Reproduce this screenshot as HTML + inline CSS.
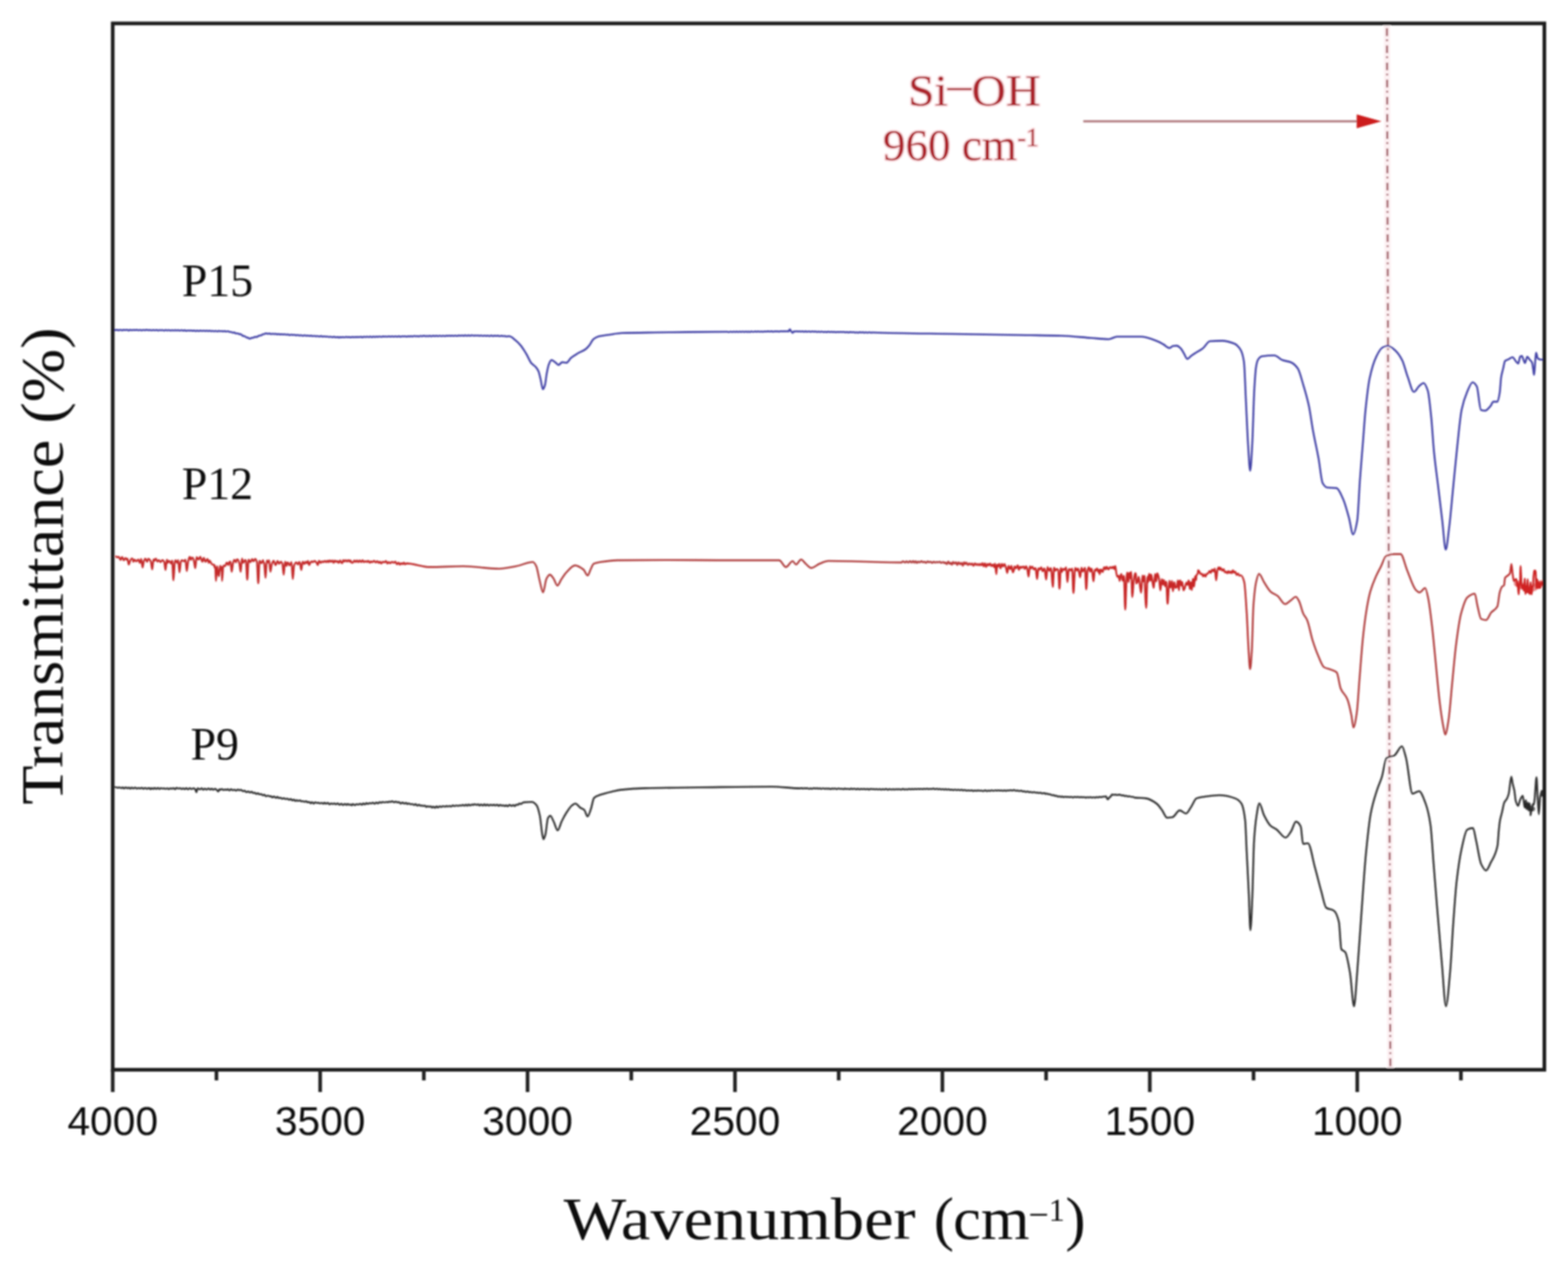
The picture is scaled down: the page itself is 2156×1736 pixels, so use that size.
<!DOCTYPE html>
<html><head><meta charset="utf-8"><title>FTIR spectra</title>
<style>
html,body{margin:0;padding:0;background:#fff;}
body{width:2156px;height:1736px;overflow:hidden;}
svg{display:block;}
.serif{font-family:"Liberation Serif","Times New Roman",serif;}
.sans{font-family:"Liberation Sans",Arial,sans-serif;}
</style></head>
<body>
<svg width="2156" height="1736" viewBox="0 0 2156 1736">
<defs><linearGradient id="redg" gradientUnits="userSpaceOnUse" x1="150" y1="0" x2="2130" y2="0">
<stop offset="0.0000" stop-color="#c42c2c"/><stop offset="0.2071" stop-color="#c42c2c"/><stop offset="0.2323" stop-color="#b04040"/><stop offset="0.5758" stop-color="#b04040"/><stop offset="0.6061" stop-color="#c82828"/><stop offset="0.7828" stop-color="#c82828"/><stop offset="0.7955" stop-color="#b04040"/><stop offset="0.9672" stop-color="#b04040"/><stop offset="0.9773" stop-color="#cc2222"/>
</linearGradient><filter id="soft" x="-5%" y="-5%" width="110%" height="110%"><feGaussianBlur stdDeviation="0.9"/></filter></defs>
<rect width="100%" height="100%" fill="#fff"/>
<g filter="url(#soft)">
<!-- dashed marker line -->
<line x1="1907" y1="34" x2="1911.8" y2="1469" stroke="#fdf1f3" stroke-width="9" />
<line x1="1907" y1="32" x2="1911.8" y2="1471" stroke="#a05a64" stroke-width="2.8" stroke-dasharray="10.6 4.6 2.4 6" stroke-dashoffset="16.8" />
<!-- spectra -->
<path d="M157.0 453.4C157.7 453.5 158.5 453.8 159.2 453.8C159.8 453.8 160.5 453.3 161.1 453.3C161.8 453.3 162.4 454.1 163.1 454.1C163.8 454.1 164.6 453.2 165.3 453.2C166.2 453.2 167.0 454.1 167.9 454.1C168.5 454.1 169.2 453.2 169.8 453.2C170.5 453.2 171.2 453.8 171.9 453.8C172.7 453.8 173.6 453.3 174.4 453.3C175.3 453.3 176.1 454.1 177.0 454.1C177.7 454.1 178.3 453.4 179.0 453.4C179.6 453.4 180.2 453.9 180.8 453.9C181.7 453.9 182.5 453.5 183.4 453.5C184.3 453.5 185.1 453.8 186.0 453.8C186.7 453.8 187.5 453.4 188.2 453.4C188.8 453.4 189.4 454.0 190.0 454.0C190.9 454.0 191.7 453.5 192.6 453.5C193.3 453.5 194.0 454.1 194.7 454.1C195.6 454.1 196.4 453.5 197.3 453.5C198.1 453.5 198.8 453.9 199.6 453.9C199.7 453.9 199.9 453.5 200.0 453.5C200.7 453.4 201.4 453.4 202.1 453.4C202.7 453.4 203.4 453.9 204.0 453.9C204.8 453.9 205.6 453.6 206.4 453.6C207.1 453.6 207.7 454.1 208.4 454.1C209.1 454.1 209.8 453.6 210.5 453.6C211.3 453.6 212.2 454.0 213.0 454.0C213.8 454.0 214.7 453.6 215.5 453.6C216.1 453.6 216.8 454.3 217.4 454.3C218.0 454.3 218.7 453.7 219.3 453.7C220.0 453.7 220.8 454.0 221.5 454.0C222.2 454.0 223.0 453.7 223.7 453.7C224.4 453.7 225.1 454.4 225.8 454.4C226.4 454.4 227.0 453.6 227.6 453.6C228.3 453.6 228.9 454.1 229.6 454.1C230.4 454.1 231.2 453.7 232.0 453.7C232.9 453.7 233.7 454.4 234.6 454.4C235.2 454.4 235.8 453.9 236.4 453.9C237.1 453.9 237.9 454.2 238.6 454.2C239.4 454.2 240.2 453.7 241.0 453.7C241.6 453.7 242.2 454.3 242.8 454.3C243.6 454.3 244.5 453.8 245.3 453.8C245.9 453.8 246.6 454.5 247.2 454.5C248.0 454.5 248.7 453.8 249.5 453.8C249.7 453.8 249.8 453.9 250.0 454.0C250.6 454.2 251.1 454.4 251.7 454.4C252.5 454.4 253.2 453.9 254.0 453.9C254.7 453.9 255.4 454.8 256.1 454.8C256.8 454.8 257.5 454.2 258.2 454.2C259.0 454.2 259.7 454.5 260.5 454.5C261.2 454.5 261.9 454.3 262.6 454.3C263.4 454.3 264.1 454.6 264.9 454.6C265.6 454.6 266.4 454.2 267.1 454.2C267.8 454.2 268.5 455.1 269.2 455.1C269.8 455.1 270.4 454.4 271.0 454.4C271.8 454.4 272.5 455.0 273.3 455.0C274.0 455.0 274.8 454.4 275.5 454.4C276.2 454.4 276.8 454.9 277.5 454.9C278.3 454.9 279.1 454.5 279.9 454.5C280.7 454.5 281.6 454.9 282.4 454.9C283.1 454.9 283.8 454.5 284.5 454.5C285.1 454.5 285.8 455.1 286.4 455.1C287.1 455.1 287.9 454.5 288.6 454.5C289.2 454.5 289.9 455.2 290.5 455.2C291.1 455.2 291.7 454.8 292.3 454.8C293.0 454.8 293.8 455.4 294.5 455.4C295.1 455.4 295.7 454.8 296.3 454.8C297.0 454.8 297.8 455.5 298.5 455.5C299.2 455.5 300.0 454.9 300.7 454.9C301.3 454.9 301.9 455.3 302.5 455.3C303.3 455.3 304.0 455.0 304.8 455.0C305.4 455.0 306.0 455.5 306.6 455.5C307.4 455.5 308.2 455.1 309.0 455.1C309.8 455.1 310.7 455.8 311.5 455.8C312.0 455.8 312.5 455.2 313.0 455.2C313.2 455.2 313.5 455.2 313.7 455.3C314.3 455.3 314.9 456.3 315.5 456.3C316.2 456.3 317.0 456.3 317.7 456.3C318.4 456.3 319.1 457.2 319.8 457.2C320.7 457.2 321.5 457.1 322.4 457.1C323.0 457.1 323.7 458.3 324.3 458.3C325.1 458.3 326.0 458.3 326.8 458.3C327.7 458.4 328.5 459.5 329.4 459.5C329.6 459.5 329.8 459.0 330.0 459.0C330.6 459.0 331.2 459.5 331.8 459.9C332.6 460.4 333.5 461.5 334.3 461.7C334.9 461.9 335.6 461.8 336.2 462.0C337.1 462.2 338.0 463.6 338.9 463.8C339.6 464.1 340.4 464.1 341.1 464.3C341.7 464.5 342.4 465.1 343.0 465.3C343.2 465.4 343.5 465.5 343.7 465.5C344.5 465.5 345.4 464.5 346.2 464.4C346.8 464.3 347.5 464.3 348.1 464.2C348.9 464.0 349.8 463.1 350.6 463.1C351.5 463.1 352.3 463.1 353.2 463.1C353.8 463.1 354.4 462.3 355.0 462.0C355.7 461.7 356.3 461.4 357.0 461.2C357.8 461.0 358.7 461.1 359.5 460.8C360.1 460.6 360.8 459.6 361.4 459.4C362.2 459.2 363.1 459.3 363.9 459.1C364.3 459.0 364.6 458.2 365.0 458.2C365.3 458.2 365.6 458.2 365.9 458.2C366.7 458.2 367.6 458.9 368.4 458.9C369.0 458.9 369.7 458.4 370.3 458.4C371.0 458.4 371.8 459.1 372.5 459.1C373.4 459.1 374.2 458.8 375.1 458.8C375.7 458.8 376.4 459.1 377.0 459.1C377.7 459.1 378.3 458.9 379.0 458.9C379.7 458.9 380.5 459.6 381.2 459.6C381.9 459.6 382.5 459.0 383.2 459.0C383.8 459.0 384.4 459.7 385.0 459.7C385.6 459.7 386.3 459.4 386.9 459.4C387.6 459.4 388.2 459.7 388.9 459.7C389.7 459.7 390.6 459.5 391.4 459.5C392.2 459.5 393.0 460.0 393.8 460.0C394.6 460.0 395.5 459.8 396.3 459.8C397.0 459.8 397.6 460.6 398.3 460.6C398.9 460.6 399.4 460.0 400.0 460.0C400.2 460.0 400.5 460.0 400.7 460.0C401.3 460.0 402.0 460.4 402.6 460.4C403.3 460.4 404.1 460.2 404.8 460.2C405.6 460.2 406.3 460.9 407.1 460.9C407.8 460.9 408.5 460.5 409.2 460.5C410.0 460.5 410.9 461.1 411.7 461.1C412.5 461.1 413.2 460.7 414.0 460.7C414.7 460.7 415.5 461.5 416.2 461.5C417.1 461.5 417.9 460.9 418.8 460.9C419.4 460.9 420.0 461.5 420.6 461.5C421.5 461.5 422.4 461.3 423.3 461.3C424.1 461.3 424.8 461.7 425.6 461.7C426.3 461.7 427.0 461.4 427.7 461.4C428.5 461.4 429.3 462.0 430.1 462.0C430.8 462.0 431.4 461.7 432.1 461.7C433.0 461.7 433.9 462.1 434.8 462.1C435.5 462.1 436.3 462.0 437.0 462.0C437.7 462.0 438.4 462.5 439.1 462.5C439.9 462.5 440.7 461.9 441.5 461.9C442.2 461.9 443.0 462.7 443.7 462.7C444.3 462.7 445.0 462.3 445.6 462.3C446.4 462.3 447.2 462.8 448.0 462.8C448.6 462.8 449.2 462.5 449.8 462.5C450.6 462.5 451.5 463.2 452.3 463.2C453.0 463.2 453.6 462.8 454.3 462.8C455.1 462.8 455.8 463.4 456.6 463.4C457.5 463.4 458.3 462.9 459.2 462.9C460.0 462.9 460.7 463.6 461.5 463.6C462.3 463.6 463.1 463.4 463.9 463.4C464.3 463.4 464.6 463.4 465.0 463.4C465.3 463.4 465.6 464.1 465.9 464.1C466.5 464.1 467.1 463.3 467.7 463.3C468.3 463.3 468.8 463.7 469.4 463.7C470.0 463.7 470.7 463.3 471.3 463.3C472.1 463.3 472.8 463.7 473.6 463.7C474.3 463.7 475.1 463.1 475.8 463.1C476.5 463.1 477.3 463.5 478.0 463.5C478.8 463.5 479.7 463.2 480.5 463.2C481.1 463.2 481.8 463.8 482.4 463.8C483.1 463.8 483.7 463.1 484.4 463.1C485.2 463.1 485.9 463.6 486.7 463.6C487.3 463.6 487.9 463.0 488.5 463.0C489.1 463.0 489.6 463.4 490.2 463.4C490.9 463.4 491.6 463.1 492.3 463.1C492.9 463.1 493.6 463.4 494.2 463.4C494.9 463.4 495.5 462.9 496.2 462.9C496.9 462.9 497.5 463.6 498.2 463.6C499.0 463.6 499.7 462.9 500.5 462.9C501.3 462.9 502.0 463.3 502.8 463.3C503.4 463.3 504.1 462.7 504.7 462.7C505.5 462.7 506.2 463.3 507.0 463.3C507.7 463.3 508.5 462.6 509.2 462.6C509.8 462.6 510.5 463.4 511.1 463.4C511.9 463.4 512.8 462.6 513.6 462.6C514.3 462.6 514.9 463.3 515.6 463.3C516.2 463.3 516.9 462.5 517.5 462.5C518.1 462.5 518.8 463.1 519.4 463.1C520.2 463.1 520.9 462.5 521.7 462.5C522.5 462.5 523.4 463.0 524.2 463.0C525.0 463.0 525.9 462.4 526.7 462.4C527.4 462.4 528.1 462.8 528.8 462.8C529.2 462.8 529.6 462.5 530.0 462.5C530.3 462.5 530.5 462.5 530.8 462.5C531.4 462.5 531.9 462.8 532.5 462.8C533.3 462.8 534.1 462.3 534.9 462.3C535.6 462.3 536.4 462.8 537.1 462.8C537.8 462.8 538.5 462.3 539.2 462.3C540.0 462.3 540.7 462.8 541.5 462.8C542.2 462.8 543.0 462.3 543.7 462.3C544.5 462.3 545.4 462.8 546.2 462.8C547.0 462.8 547.8 462.1 548.6 462.1C549.3 462.1 549.9 462.9 550.6 462.9C551.5 462.9 552.3 462.2 553.2 462.2C553.8 462.2 554.4 462.4 555.0 462.4C555.7 462.4 556.5 462.2 557.2 462.2C557.9 462.2 558.6 462.8 559.3 462.8C560.0 462.8 560.6 462.1 561.3 462.1C561.9 462.1 562.5 462.4 563.1 462.4C563.9 462.4 564.8 462.1 565.6 462.1C566.2 462.1 566.7 462.5 567.3 462.5C568.1 462.5 568.8 461.7 569.6 461.7C570.5 461.7 571.3 462.2 572.2 462.2C572.8 462.2 573.4 462.0 574.0 462.0C574.7 462.0 575.3 462.4 576.0 462.4C576.8 462.4 577.5 461.7 578.3 461.7C579.0 461.7 579.8 462.1 580.5 462.1C581.3 462.1 582.0 461.6 582.8 461.6C583.6 461.6 584.5 462.1 585.3 462.1C585.9 462.1 586.6 461.7 587.2 461.7C587.9 461.7 588.5 462.1 589.2 462.1C589.9 462.1 590.5 461.5 591.2 461.5C591.8 461.5 592.5 462.3 593.1 462.3C593.7 462.3 594.4 461.6 595.0 461.6C595.2 461.6 595.4 461.6 595.6 461.6C596.4 461.7 597.2 461.9 598.0 461.9C598.8 461.9 599.6 461.6 600.4 461.6C601.0 461.6 601.6 462.0 602.2 462.0C603.0 462.0 603.9 461.5 604.7 461.5C605.5 461.5 606.3 462.0 607.1 462.0C607.8 462.0 608.6 461.5 609.3 461.5C610.1 461.5 610.9 462.0 611.7 462.0C612.4 462.0 613.2 461.4 613.9 461.4C614.5 461.4 615.2 461.7 615.8 461.7C616.4 461.7 617.1 461.3 617.7 461.3C618.3 461.3 619.0 461.8 619.6 461.8C620.2 461.8 620.8 461.3 621.4 461.3C622.1 461.3 622.8 461.7 623.5 461.7C624.3 461.7 625.1 461.3 625.9 461.3C626.7 461.3 627.5 461.7 628.3 461.7C629.1 461.7 630.0 461.1 630.8 461.1C631.6 461.1 632.4 461.5 633.2 461.5C633.9 461.5 634.5 461.0 635.2 461.0C635.9 461.0 636.7 461.6 637.4 461.6C638.1 461.6 638.9 460.9 639.6 460.9C640.4 460.9 641.2 461.5 642.0 461.5C642.7 461.5 643.5 460.9 644.2 460.9C644.9 460.9 645.5 461.5 646.2 461.5C647.0 461.5 647.7 460.9 648.5 460.9C649.0 460.9 649.5 461.0 650.0 461.0C650.4 461.0 650.8 461.5 651.2 461.5C651.8 461.5 652.5 461.1 653.1 461.1C653.9 461.1 654.8 461.3 655.6 461.3C656.2 461.3 656.8 461.1 657.4 461.1C658.1 461.1 658.7 461.6 659.4 461.6C660.1 461.6 660.7 461.1 661.4 461.1C662.2 461.1 663.0 461.7 663.8 461.7C664.7 461.7 665.5 461.3 666.4 461.3C667.2 461.3 668.0 461.7 668.8 461.7C669.5 461.7 670.1 461.2 670.8 461.2C671.7 461.2 672.5 462.0 673.4 462.0C674.1 462.0 674.7 461.1 675.4 461.1C676.1 461.1 676.7 461.9 677.4 461.9C678.3 461.9 679.1 461.4 680.0 461.4C680.8 461.4 681.5 461.7 682.3 461.7C683.1 461.7 683.8 461.4 684.6 461.4C685.4 461.4 686.2 462.0 687.0 462.0C687.9 462.0 688.7 461.7 689.6 461.6C689.7 461.6 689.9 461.5 690.0 461.5C690.6 461.5 691.2 462.0 691.8 462.0C692.6 462.0 693.5 461.9 694.3 461.9C695.1 461.9 695.8 462.5 696.6 462.5C697.5 462.5 698.3 462.1 699.2 462.1C699.8 462.1 700.5 462.2 701.1 462.3C703.6 462.7 706.1 465.5 708.6 467.5C711.1 469.5 713.5 471.9 716.0 474.9C718.5 477.9 720.9 482.0 723.4 486.0C725.9 490.0 728.3 496.5 730.8 499.4C732.8 501.7 734.8 502.3 736.8 504.6C738.0 506.0 739.3 507.7 740.5 510.5C741.5 512.7 742.4 517.6 743.4 521.6C744.4 525.7 745.4 535.0 746.4 535.0C747.4 535.0 748.4 532.2 749.4 529.0C750.1 526.7 750.9 518.2 751.6 514.2C752.6 508.8 753.6 503.3 754.6 500.9C755.8 497.9 757.1 494.9 758.3 494.9C760.3 494.9 762.2 497.2 764.2 498.6C765.4 499.5 766.7 501.6 767.9 501.6C769.6 501.6 771.4 497.9 773.1 497.9C775.1 497.9 777.1 498.6 779.1 498.6C781.1 498.6 783.0 493.7 785.0 492.0C788.0 489.5 790.9 487.8 793.9 486.0C797.6 483.8 801.3 482.8 805.0 480.1C806.7 478.9 808.5 477.0 810.2 474.9C812.2 472.5 814.2 467.5 816.2 466.0C818.7 464.1 821.1 462.9 823.6 462.3C828.5 461.1 833.5 460.7 838.4 460.0C843.9 459.2 849.5 458.0 855.0 457.8C870.0 457.3 885.0 457.2 900.0 457.0C915.9 456.8 931.9 456.6 947.8 456.4C965.2 456.2 982.6 456.0 1000.0 456.0C1000.8 456.0 1001.6 456.5 1002.4 456.5C1003.2 456.5 1003.9 455.8 1004.7 455.8C1005.4 455.8 1006.0 456.4 1006.7 456.4C1007.3 456.4 1008.0 455.9 1008.6 455.9C1009.4 455.9 1010.1 456.2 1010.9 456.2C1011.5 456.2 1012.2 455.9 1012.8 455.9C1013.6 455.9 1014.5 456.2 1015.3 456.2C1015.9 456.2 1016.6 455.8 1017.2 455.8C1017.8 455.8 1018.4 456.2 1019.0 456.2C1019.6 456.2 1020.3 455.8 1020.9 455.8C1021.7 455.8 1022.6 456.1 1023.4 456.1C1024.1 456.1 1024.8 455.7 1025.5 455.7C1026.1 455.7 1026.8 456.1 1027.4 456.1C1028.0 456.1 1028.6 455.7 1029.2 455.7C1029.8 455.7 1030.4 456.3 1031.0 456.3C1031.8 456.3 1032.5 455.6 1033.3 455.6C1034.1 455.6 1034.9 456.2 1035.7 456.2C1036.5 456.2 1037.2 455.6 1038.0 455.6C1038.8 455.6 1039.6 456.0 1040.4 456.0C1041.0 456.0 1041.7 455.5 1042.3 455.5C1043.0 455.5 1043.8 456.0 1044.5 456.0C1045.2 456.0 1045.9 455.7 1046.6 455.7C1047.4 455.7 1048.3 456.0 1049.1 456.0C1049.9 456.0 1050.8 455.6 1051.6 455.6C1052.4 455.6 1053.3 455.8 1054.1 455.8C1054.7 455.8 1055.3 455.4 1055.9 455.4C1056.8 455.4 1057.6 455.8 1058.5 455.8C1059.3 455.8 1060.2 455.4 1061.0 455.4C1061.9 455.4 1062.7 455.9 1063.6 455.9C1064.2 455.9 1064.9 455.4 1065.5 455.4C1066.1 455.4 1066.8 455.6 1067.4 455.6C1068.0 455.6 1068.7 455.4 1069.3 455.4C1069.9 455.4 1070.5 455.9 1071.1 455.9C1071.9 455.9 1072.8 455.3 1073.6 455.3C1074.4 455.3 1075.2 455.5 1076.0 455.5C1076.8 455.5 1077.6 455.2 1078.4 455.2C1079.2 455.2 1080.0 455.5 1080.8 455.5C1081.6 455.5 1082.4 455.1 1083.2 455.1C1083.5 455.1 1083.9 455.8 1084.2 455.8C1084.8 455.8 1085.4 452.5 1086.0 452.5C1086.6 452.5 1087.2 455.1 1087.8 455.2C1087.9 455.2 1087.9 455.2 1088.0 455.2C1088.1 455.2 1088.1 455.6 1088.2 455.7C1088.8 456.6 1089.4 457.5 1090.0 457.5C1090.6 457.5 1091.2 455.3 1091.8 455.3C1092.3 455.3 1092.7 455.8 1093.2 455.8C1093.9 455.8 1094.6 455.3 1095.3 455.3C1096.0 455.3 1096.7 455.8 1097.4 455.8C1098.0 455.8 1098.6 455.4 1099.2 455.4C1099.9 455.4 1100.5 455.9 1101.2 455.9C1101.9 455.9 1102.5 455.4 1103.2 455.4C1104.0 455.4 1104.8 456.0 1105.6 456.0C1106.3 456.0 1107.0 455.4 1107.7 455.4C1108.4 455.4 1109.0 456.0 1109.7 456.0C1110.6 456.0 1111.4 455.5 1112.3 455.5C1113.0 455.5 1113.8 456.1 1114.5 456.1C1115.3 456.1 1116.2 455.5 1117.0 455.5C1117.8 455.5 1118.5 456.0 1119.3 456.0C1119.9 456.0 1120.5 455.5 1121.1 455.5C1121.8 455.5 1122.5 456.3 1123.2 456.3C1123.9 456.3 1124.7 455.9 1125.4 455.9C1126.2 455.9 1127.0 456.3 1127.8 456.3C1128.5 456.3 1129.2 455.8 1129.9 455.8C1130.7 455.8 1131.5 456.4 1132.3 456.4C1133.0 456.4 1133.8 456.0 1134.5 456.0C1135.1 456.0 1135.8 456.4 1136.4 456.4C1137.3 456.4 1138.1 455.9 1139.0 455.9C1139.6 455.9 1140.2 456.4 1140.8 456.4C1141.6 456.4 1142.5 456.0 1143.3 456.0C1143.9 456.0 1144.6 456.5 1145.2 456.5C1145.8 456.5 1146.4 456.1 1147.0 456.1C1147.6 456.1 1148.3 456.6 1148.9 456.6C1149.7 456.6 1150.5 456.3 1151.3 456.3C1152.2 456.3 1153.0 456.5 1153.9 456.5C1154.5 456.5 1155.1 456.2 1155.7 456.2C1156.4 456.2 1157.2 456.5 1157.9 456.5C1158.6 456.5 1159.4 456.2 1160.1 456.2C1160.9 456.2 1161.8 456.9 1162.6 456.9C1163.2 456.9 1163.9 456.4 1164.5 456.4C1165.2 456.4 1166.0 457.0 1166.7 457.0C1167.4 457.0 1168.0 456.4 1168.7 456.4C1169.5 456.4 1170.4 456.8 1171.2 456.8C1171.9 456.8 1172.5 456.5 1173.2 456.5C1174.1 456.5 1174.9 457.1 1175.8 457.1C1176.5 457.1 1177.1 456.7 1177.8 456.7C1178.5 456.7 1179.1 457.3 1179.8 457.3C1180.6 457.3 1181.3 456.6 1182.1 456.6C1182.8 456.6 1183.6 457.1 1184.3 457.1C1184.9 457.1 1185.6 456.6 1186.2 456.6C1187.0 456.6 1187.7 457.3 1188.5 457.3C1189.1 457.3 1189.8 456.7 1190.4 456.7C1191.2 456.7 1192.0 457.2 1192.8 457.2C1193.6 457.2 1194.4 456.7 1195.2 456.7C1196.0 456.7 1196.8 457.2 1197.6 457.2C1198.4 457.2 1199.1 457.0 1199.9 457.0C1199.9 457.0 1200.0 457.0 1200.0 457.0C1237.0 458.3 1274.0 458.4 1311.0 459.0C1340.7 459.5 1370.3 460.0 1400.0 460.5C1419.8 460.8 1439.7 460.9 1459.5 461.5C1473.0 461.9 1486.5 463.5 1500.0 464.5C1508.2 465.1 1516.3 466.2 1524.5 466.2C1528.2 466.2 1532.0 462.8 1535.7 462.8C1546.8 462.8 1557.9 462.8 1569.0 462.8C1576.4 462.8 1583.9 466.2 1591.3 469.0C1594.2 470.1 1597.1 471.9 1600.0 473.5C1602.7 475.0 1605.3 478.4 1608.0 478.4C1609.7 478.4 1611.3 475.7 1613.0 475.5C1614.7 475.3 1616.3 475.1 1618.0 475.1C1619.9 475.1 1621.7 477.2 1623.6 479.0C1625.1 480.4 1626.5 483.6 1628.0 486.0C1629.5 488.4 1631.0 493.4 1632.5 493.4C1634.3 493.4 1636.2 490.3 1638.0 489.0C1640.3 487.4 1642.5 486.0 1644.8 484.5C1647.8 482.6 1650.7 481.3 1653.7 479.0C1657.0 476.5 1660.4 469.3 1663.7 469.0C1669.3 468.6 1674.8 468.4 1680.4 468.4C1686.0 468.4 1691.5 470.1 1697.1 472.3C1700.1 473.5 1703.0 476.2 1706.0 481.2C1707.5 483.7 1708.9 487.7 1710.4 497.0C1711.4 503.2 1712.3 534.7 1713.3 554.0C1714.2 572.7 1715.2 596.6 1716.1 611.0C1717.1 626.0 1718.0 647.1 1719.0 647.1C1719.9 647.1 1720.9 627.1 1721.8 611.0C1722.8 594.3 1723.7 551.6 1724.7 535.0C1725.5 521.8 1726.2 509.8 1727.0 505.0C1727.8 500.0 1728.6 496.4 1729.4 495.1C1731.3 491.9 1733.2 490.1 1735.1 489.8C1740.8 488.9 1746.5 488.5 1752.2 488.5C1756.0 488.5 1759.8 493.8 1763.6 495.1C1767.4 496.4 1771.2 496.5 1775.0 498.0C1778.2 499.3 1781.3 502.0 1784.5 506.5C1787.0 510.1 1789.6 520.9 1792.1 529.3C1794.6 537.7 1797.2 546.0 1799.7 557.8C1801.6 566.7 1803.5 581.6 1805.4 592.0C1807.9 605.9 1810.5 616.1 1813.0 630.0C1814.9 640.4 1816.8 660.9 1818.7 664.2C1820.6 667.5 1822.5 669.7 1824.4 670.0C1828.8 670.6 1833.3 670.3 1837.7 670.9C1840.9 671.3 1844.0 679.9 1847.2 687.0C1849.7 692.7 1852.3 702.6 1854.8 711.7C1856.7 718.5 1858.6 734.5 1860.5 734.5C1862.4 734.5 1864.3 726.3 1866.2 715.5C1867.5 708.3 1868.7 675.8 1870.0 658.5C1871.3 641.2 1872.5 626.8 1873.8 611.0C1875.1 595.2 1876.3 575.7 1877.6 563.5C1879.5 545.1 1881.4 528.7 1883.3 519.8C1886.5 505.0 1889.6 495.8 1892.8 489.4C1895.3 484.3 1897.9 479.5 1900.4 478.0C1902.9 476.5 1905.5 475.2 1908.0 475.2C1911.5 475.2 1915.0 478.7 1918.5 481.8C1921.7 484.6 1924.8 489.0 1928.0 495.1C1930.5 500.0 1933.1 511.1 1935.6 517.9C1938.5 525.6 1941.3 538.8 1944.2 538.8C1946.4 538.8 1948.6 533.1 1950.8 531.2C1953.0 529.3 1955.3 526.5 1957.5 526.5C1959.4 526.5 1961.3 531.2 1963.2 536.9C1964.8 541.6 1966.3 558.0 1967.9 573.0C1969.2 585.2 1970.4 607.7 1971.7 620.5C1973.6 639.8 1975.5 652.2 1977.4 668.0C1979.3 683.8 1981.2 699.7 1983.1 715.5C1984.7 728.8 1986.3 755.4 1987.9 755.4C1989.5 755.4 1991.0 737.2 1992.6 725.0C1994.5 710.2 1996.4 687.0 1998.3 668.0C2000.2 649.0 2002.1 628.3 2004.0 611.0C2005.9 593.7 2007.8 572.6 2009.7 563.5C2012.2 551.4 2014.8 544.6 2017.3 538.8C2019.8 533.0 2022.4 525.5 2024.9 525.5C2026.8 525.5 2028.7 528.0 2030.6 531.2C2032.5 534.4 2034.4 562.9 2036.3 563.5C2038.2 564.1 2040.1 564.5 2042.0 564.5C2044.5 564.5 2047.1 560.7 2049.6 557.8C2050.9 556.4 2052.1 552.1 2053.4 552.1C2055.3 552.1 2057.2 552.1 2059.1 552.1C2060.1 552.1 2061.1 545.9 2062.1 539.8C2062.8 535.7 2063.4 522.6 2064.1 518.4C2065.0 512.5 2066.0 510.2 2066.9 506.3C2067.7 502.8 2068.6 497.0 2069.4 496.2C2071.0 494.6 2072.6 494.6 2074.2 493.8C2076.1 492.9 2077.9 491.0 2079.8 491.0C2081.3 491.0 2082.8 494.9 2084.3 496.6C2085.4 497.8 2086.4 499.8 2087.5 499.8C2088.4 499.8 2089.4 490.8 2090.3 490.2C2091.1 489.7 2091.9 489.4 2092.7 489.4C2093.3 489.4 2093.8 492.1 2094.4 493.4C2095.2 495.3 2096.0 499.0 2096.8 499.0C2097.9 499.0 2098.9 490.2 2100.0 490.2C2101.1 490.2 2102.1 492.9 2103.2 494.2C2104.3 495.6 2105.4 495.8 2106.5 498.2C2107.1 499.4 2107.6 504.5 2108.2 508.0C2108.6 510.3 2108.9 515.2 2109.3 515.2C2109.7 515.2 2110.0 509.3 2110.4 505.0C2110.7 501.9 2110.9 496.0 2111.2 493.0C2111.5 489.6 2111.8 484.9 2112.1 484.9C2112.9 484.9 2113.7 492.0 2114.5 492.6C2115.8 493.6 2117.2 494.2 2118.5 494.2C2119.3 494.2 2120.2 494.2 2121.0 494.2" fill="none" stroke="#4242a6" stroke-width="2.6" stroke-linejoin="round"/>
<path d="M159.0 764.0C159.7 764.8 160.5 766.3 161.2 766.3C161.9 766.3 162.6 765.2 163.3 765.2C164.1 765.2 165.0 769.7 165.8 769.7C166.5 769.7 167.1 765.5 167.8 765.5C168.6 765.5 169.5 770.1 170.3 770.1C171.0 770.1 171.8 767.0 172.5 767.0C173.2 767.0 173.8 769.5 174.5 769.5C174.7 769.5 175.0 767.8 175.2 767.8C175.8 767.8 176.4 776.0 177.0 776.0C177.6 776.0 178.2 772.3 178.8 771.1C179.6 769.5 180.4 767.5 181.2 767.5C181.8 767.5 182.4 767.9 183.0 769.5C183.1 769.7 183.1 772.1 183.2 772.1C183.9 772.1 184.5 769.4 185.2 769.4C186.0 769.4 186.7 771.6 187.5 771.6C188.4 771.6 189.3 769.1 190.2 769.1C190.9 769.1 191.6 773.8 192.3 773.8C192.9 773.8 193.6 768.2 194.2 768.2C194.8 768.2 195.4 780.0 196.0 780.0C196.6 780.0 197.2 773.0 197.8 771.4C198.5 769.7 199.1 767.7 199.8 767.7C200.6 767.7 201.4 772.1 202.2 772.1C202.8 772.1 203.4 768.0 204.0 768.0C204.2 768.0 204.3 768.1 204.5 768.2C205.5 768.8 206.5 769.9 207.5 772.2C208.1 773.5 208.7 782.6 209.3 782.6C209.9 782.6 210.5 768.7 211.1 768.7C211.4 768.7 211.8 770.9 212.1 770.9C212.8 770.9 213.6 767.8 214.3 767.8C215.0 767.8 215.7 772.0 216.4 772.0C217.1 772.0 217.7 769.8 218.4 769.8C219.1 769.8 219.9 772.7 220.6 772.7C221.5 772.7 222.4 769.9 223.3 769.9C224.1 769.9 225.0 770.9 225.8 772.3C226.4 773.3 227.0 783.4 227.6 783.4C228.2 783.4 228.8 769.3 229.4 769.3C229.6 769.3 229.8 770.2 230.0 771.0C230.1 771.5 230.3 773.6 230.4 773.6C231.2 773.6 231.9 770.8 232.7 770.8C233.5 770.8 234.4 774.7 235.2 774.7C235.7 774.7 236.2 770.6 236.7 770.6C237.3 770.6 237.9 797.6 238.5 797.6C239.1 797.6 239.7 776.4 240.3 773.2C240.6 771.6 240.9 770.0 241.2 770.0C242.1 770.0 242.9 773.6 243.8 773.6C244.2 773.6 244.6 769.7 245.0 769.7C245.6 769.7 246.2 786.7 246.8 786.7C247.4 786.7 248.0 773.7 248.6 772.2C249.1 771.0 249.5 770.0 250.0 770.0C250.3 770.0 250.5 770.2 250.8 770.3C251.6 770.6 252.4 771.5 253.2 771.5C253.8 771.5 254.4 769.3 255.0 769.3C255.6 769.3 256.2 785.0 256.8 785.0C257.4 785.0 258.0 775.2 258.6 772.5C259.3 769.3 260.0 765.4 260.7 765.4C261.4 765.4 262.1 769.8 262.8 769.8C262.9 769.8 262.9 766.5 263.0 766.5C263.8 766.5 264.5 766.6 265.3 766.8C265.8 766.9 266.2 769.5 266.7 771.4C267.3 773.8 267.9 780.9 268.5 780.9C269.1 780.9 269.7 765.9 270.3 765.9C271.2 765.9 272.2 769.1 273.1 769.1C273.8 769.1 274.6 765.3 275.3 765.3C275.5 765.3 275.8 766.0 276.0 766.5C276.7 768.0 277.5 772.1 278.2 772.1C278.9 772.1 279.5 766.7 280.2 766.7C281.0 766.7 281.7 772.3 282.5 772.3C283.4 772.3 284.3 768.2 285.2 768.2C285.9 768.2 286.5 773.7 287.2 773.7C287.5 773.7 287.7 770.5 288.0 770.5C288.5 770.5 289.1 771.8 289.6 772.5C290.3 773.5 290.9 775.7 291.6 775.8C292.4 776.0 293.3 775.9 294.1 776.1C294.4 776.2 294.8 780.1 295.1 780.1C295.4 780.1 295.7 777.5 296.0 777.5C296.3 777.5 296.6 798.4 296.9 798.4C297.5 798.4 298.1 778.4 298.7 778.4C298.9 778.4 299.0 781.0 299.2 782.1C299.8 785.9 300.4 792.0 301.0 792.0C301.6 792.0 302.2 777.5 302.8 777.5C303.0 777.5 303.3 783.4 303.5 783.4C304.0 783.4 304.5 779.0 305.0 779.0C305.1 779.0 305.2 798.4 305.3 798.4C305.9 798.4 306.5 777.2 307.1 777.2C307.8 777.2 308.6 778.3 309.3 778.3C310.1 778.3 311.0 773.2 311.8 773.2C312.6 773.2 313.4 776.8 314.2 776.8C314.5 776.8 314.7 773.3 315.0 773.0C315.6 772.2 316.2 771.8 316.8 771.8C317.4 771.8 318.0 785.9 318.6 785.9C319.2 785.9 319.8 776.4 320.4 774.1C321.0 771.9 321.5 769.5 322.1 769.5C322.9 769.5 323.8 773.0 324.6 773.0C324.7 773.0 324.9 770.2 325.0 770.0C325.5 769.2 326.1 768.9 326.6 768.9C327.4 768.9 328.3 771.5 329.1 774.2C329.7 776.2 330.3 785.9 330.9 785.9C331.5 785.9 332.1 767.7 332.7 767.7C333.3 767.7 334.0 773.5 334.6 773.5C335.5 773.5 336.4 769.5 337.3 769.5C337.6 769.5 337.9 770.3 338.2 771.2C338.8 773.1 339.4 796.7 340.0 796.7C340.6 796.7 341.2 769.4 341.8 769.4C342.7 769.4 343.5 772.7 344.4 772.7C345.0 772.7 345.7 770.0 346.3 769.0C346.4 768.8 346.6 768.5 346.7 768.5C347.4 768.5 348.0 771.5 348.7 771.5C349.4 771.5 350.1 768.4 350.8 768.4C351.6 768.4 352.5 769.9 353.3 772.6C353.9 774.6 354.5 801.8 355.1 801.8C355.7 801.8 356.3 770.9 356.9 770.9C357.8 770.9 358.6 774.3 359.5 774.3C360.2 774.3 360.9 770.1 361.6 770.1C361.6 770.1 361.7 770.9 361.7 771.0C362.2 773.1 362.8 772.4 363.3 774.2C363.9 776.3 364.5 794.2 365.1 794.2C365.7 794.2 366.3 770.3 366.9 770.3C367.5 770.3 368.1 773.3 368.7 773.3C369.1 773.3 369.6 770.0 370.0 770.0C370.6 770.0 371.2 785.9 371.8 785.9C372.4 785.9 373.0 778.0 373.6 776.2C374.5 773.5 375.3 770.8 376.2 770.8C377.1 770.8 378.1 776.8 379.0 776.8C379.9 776.8 380.8 771.1 381.7 771.1C382.4 771.1 383.2 774.9 383.9 774.9C384.7 774.9 385.4 772.0 386.2 772.0C386.9 772.0 387.6 773.2 388.3 775.0C388.9 776.4 389.5 790.0 390.1 790.0C390.7 790.0 391.3 772.0 391.9 772.0C392.6 772.0 393.4 777.8 394.1 777.8C394.4 777.8 394.7 773.0 395.0 773.0C395.4 773.0 395.7 773.2 396.1 773.4C396.8 773.8 397.5 777.2 398.2 777.2C399.1 777.2 399.9 772.6 400.8 772.6C401.4 772.6 402.0 795.9 402.6 795.9C403.2 795.9 403.8 778.9 404.4 777.3C405.4 774.6 406.4 773.0 407.4 773.0C408.1 773.0 408.9 775.9 409.6 775.9C410.2 775.9 410.9 772.3 411.5 772.3C411.8 772.3 412.2 773.3 412.5 774.1C413.1 775.7 413.7 783.4 414.3 783.4C414.9 783.4 415.5 772.1 416.1 772.1C416.9 772.1 417.8 775.2 418.6 775.2C419.1 775.2 419.5 772.0 420.0 772.0C420.7 772.0 421.5 774.1 422.2 774.1C422.6 774.1 423.0 771.1 423.4 771.1C424.0 771.1 424.6 776.7 425.2 776.7C425.8 776.7 426.4 773.3 427.0 772.7C427.5 772.3 427.9 772.5 428.4 771.8C428.4 771.8 428.5 771.5 428.5 771.5C429.0 771.5 429.5 772.8 430.0 772.8C430.8 772.8 431.6 771.1 432.4 771.1C433.3 771.1 434.2 772.1 435.1 773.1C435.7 773.7 436.3 776.7 436.9 776.7C437.5 776.7 438.1 770.7 438.7 770.7C439.5 770.7 440.2 773.7 441.0 773.7C441.7 773.7 442.3 771.6 443.0 771.6C443.5 771.6 444.1 772.7 444.6 772.7C445.3 772.7 446.0 771.0 446.7 771.0C447.3 771.0 447.8 772.7 448.4 772.7C449.0 772.7 449.5 770.8 450.1 770.8C450.4 770.8 450.7 770.9 451.0 771.0C451.3 771.1 451.5 772.8 451.8 772.8C452.4 772.8 452.9 770.2 453.5 770.2C454.1 770.2 454.8 772.3 455.4 772.3C456.0 772.3 456.5 770.2 457.1 770.2C457.6 770.2 458.2 773.7 458.7 773.7C459.3 773.7 459.8 770.6 460.4 770.6C461.0 770.6 461.5 772.3 462.1 772.3C462.7 772.3 463.4 771.1 464.0 771.1C464.5 771.1 465.1 773.8 465.6 773.8C466.4 773.8 467.1 770.4 467.9 770.4C468.1 770.4 468.3 771.7 468.5 772.1C469.1 773.1 469.7 774.2 470.3 774.2C470.9 774.2 471.5 769.9 472.1 769.9C472.6 769.9 473.0 771.9 473.5 771.9C474.1 771.9 474.8 770.1 475.4 770.1C476.0 770.1 476.7 771.9 477.3 771.9C477.9 771.9 478.4 769.9 479.0 769.9C479.7 769.9 480.5 772.1 481.2 772.1C481.4 772.1 481.6 770.4 481.8 770.4C482.4 770.4 483.0 773.4 483.6 773.4C484.2 773.4 484.8 773.4 485.4 773.3C485.9 773.2 486.5 770.5 487.0 770.5C487.2 770.5 487.4 770.5 487.6 770.6C488.2 770.7 488.7 772.4 489.3 772.4C489.8 772.4 490.4 770.2 490.9 770.2C491.5 770.2 492.2 772.8 492.8 772.8C493.4 772.8 494.0 770.3 494.6 770.3C495.4 770.3 496.1 772.6 496.9 772.6C497.5 772.6 498.0 770.0 498.6 770.0C499.1 770.0 499.7 772.6 500.2 772.6C501.0 772.6 501.8 771.4 502.6 771.4C503.3 771.4 503.9 772.4 504.6 772.4C505.2 772.4 505.7 770.9 506.3 770.9C507.0 770.9 507.7 773.5 508.4 773.5C508.9 773.5 509.5 771.6 510.0 771.6C510.7 771.6 511.3 772.8 512.0 772.8C512.8 772.8 513.6 770.8 514.4 770.8C515.2 770.8 515.9 773.1 516.7 773.1C517.4 773.1 518.1 771.2 518.8 771.2C519.4 771.2 520.1 773.6 520.7 773.6C521.3 773.6 521.9 772.1 522.5 772.1C523.1 772.1 523.7 774.5 524.3 774.5C525.0 774.5 525.8 772.1 526.5 772.1C527.2 772.1 527.8 773.0 528.5 773.0C529.2 773.0 530.0 771.0 530.7 771.0C531.3 771.0 532.0 774.5 532.6 774.5C533.2 774.5 533.8 772.5 534.4 772.5C535.1 772.5 535.9 774.2 536.6 774.2C537.4 774.2 538.2 772.2 539.0 772.2C539.8 772.2 540.5 773.5 541.3 773.5C542.1 773.5 542.8 772.0 543.6 772.0C543.7 772.0 543.9 772.3 544.0 772.5C544.6 773.3 545.2 775.6 545.8 775.6C546.5 775.6 547.3 773.3 548.0 773.3C548.6 773.3 549.2 776.1 549.8 776.1C550.5 776.1 551.1 774.1 551.8 774.1C552.4 774.1 553.1 775.5 553.7 775.5C554.2 775.5 554.8 773.3 555.3 773.3C555.8 773.3 556.4 775.7 556.9 775.7C557.5 775.7 558.2 774.4 558.8 774.4C569.5 774.4 580.3 779.4 591.0 779.4C606.3 779.4 621.7 778.3 637.0 778.3C653.5 778.3 669.9 781.7 686.4 781.7C694.1 781.7 701.9 779.7 709.6 778.3C717.3 776.9 725.1 772.5 732.8 772.5C734.3 772.5 735.9 775.3 737.4 778.3C738.9 781.3 740.5 792.1 742.0 798.0C743.6 804.0 745.1 814.2 746.7 814.2C748.2 814.2 749.8 798.6 751.3 795.7C752.9 792.7 754.4 789.9 756.0 789.9C757.7 789.9 759.3 792.8 761.0 795.0C762.8 797.4 764.6 804.9 766.4 804.9C768.3 804.9 770.1 798.7 772.0 796.0C774.4 792.5 776.7 788.8 779.1 786.4C783.0 782.4 786.8 777.1 790.7 777.1C794.6 777.1 798.4 779.9 802.3 782.9C804.2 784.4 806.2 791.0 808.1 791.0C809.4 791.0 810.7 785.6 812.0 783.0C813.4 780.2 814.9 775.5 816.3 774.8C819.4 773.3 822.4 773.0 825.5 772.5C833.2 771.3 841.0 770.2 848.7 770.1C871.9 769.8 895.1 769.7 918.3 769.7C941.5 769.7 964.7 770.1 987.9 770.1C1015.7 770.1 1043.6 770.1 1071.4 770.1C1074.5 770.1 1077.5 779.4 1080.6 779.4C1083.7 779.4 1086.8 771.3 1089.9 771.3C1091.4 771.3 1093.0 776.0 1094.5 776.0C1096.8 776.0 1099.2 769.0 1101.5 769.0C1103.7 769.0 1105.8 773.2 1108.0 775.0C1110.5 777.1 1112.9 780.6 1115.4 780.6C1119.3 780.6 1123.1 776.3 1127.0 774.8C1131.0 773.2 1135.0 771.0 1139.0 771.0C1172.7 771.0 1206.3 773.1 1240.0 773.1C1240.3 773.1 1240.7 771.5 1241.0 771.5C1241.4 771.5 1241.8 771.6 1242.2 771.8C1243.0 772.0 1243.7 773.2 1244.5 773.2C1245.2 773.2 1245.8 771.5 1246.5 771.5C1247.3 771.5 1248.0 773.3 1248.8 773.3C1249.6 773.3 1250.4 771.4 1251.2 771.4C1252.0 771.4 1252.8 773.1 1253.6 773.1C1254.2 773.1 1254.9 771.1 1255.5 771.1C1256.1 771.1 1256.6 773.5 1257.2 773.5C1257.8 773.5 1258.4 771.4 1259.0 771.4C1259.6 771.4 1260.2 773.7 1260.8 773.7C1261.4 773.7 1262.0 771.8 1262.6 771.8C1263.3 771.8 1264.0 773.0 1264.7 773.0C1265.5 773.0 1266.2 771.4 1267.0 771.4C1267.7 771.4 1268.5 773.0 1269.2 773.0C1269.9 773.0 1270.5 772.0 1271.2 772.0C1271.9 772.0 1272.6 773.7 1273.3 773.7C1274.1 773.7 1274.8 771.5 1275.6 771.5C1276.2 771.5 1276.7 772.9 1277.3 772.9C1278.0 772.9 1278.7 772.0 1279.4 772.0C1280.2 772.0 1280.9 773.7 1281.7 773.7C1282.4 773.7 1283.2 772.0 1283.9 772.0C1284.6 772.0 1285.4 773.3 1286.1 773.3C1286.8 773.3 1287.4 772.2 1288.1 772.2C1288.7 772.2 1289.3 773.1 1289.9 773.1C1290.6 773.1 1291.4 772.0 1292.1 772.0C1292.7 772.0 1293.4 773.7 1294.0 773.7C1294.7 773.7 1295.5 773.0 1296.2 772.7C1296.5 772.7 1296.7 772.5 1297.0 772.5C1297.5 772.5 1298.1 774.1 1298.6 774.1C1299.1 774.1 1299.5 773.0 1300.0 773.0C1300.6 773.0 1301.1 775.4 1301.7 775.4C1302.4 775.4 1303.2 771.9 1303.9 771.9C1304.5 771.9 1305.2 775.0 1305.8 775.0C1306.3 775.0 1306.9 773.5 1307.4 773.5C1307.9 773.5 1308.4 776.3 1308.9 776.3C1309.4 776.3 1310.0 772.4 1310.5 772.4C1311.2 772.4 1311.8 774.7 1312.5 774.7C1313.2 774.7 1313.9 772.9 1314.6 772.9C1315.1 772.9 1315.6 776.6 1316.1 776.6C1316.8 776.6 1317.4 772.9 1318.1 772.9C1318.8 772.9 1319.6 775.7 1320.3 775.7C1320.9 775.7 1321.6 773.6 1322.2 773.6C1322.8 773.6 1323.3 777.6 1323.9 777.6C1324.5 777.6 1325.1 772.9 1325.7 772.9C1326.2 772.9 1326.8 775.4 1327.3 775.4C1327.8 775.4 1328.2 773.3 1328.7 773.3C1329.4 773.3 1330.2 776.6 1330.9 776.6C1331.5 776.6 1332.2 774.2 1332.8 774.2C1333.4 774.2 1334.0 776.2 1334.6 776.2C1335.3 776.2 1336.0 774.6 1336.7 774.6C1337.3 774.6 1337.8 777.8 1338.4 777.8C1339.1 777.8 1339.8 774.2 1340.5 774.2C1341.2 774.2 1341.9 776.6 1342.6 776.6C1343.1 776.6 1343.6 775.3 1344.1 775.3C1344.7 775.3 1345.2 777.0 1345.8 777.0C1346.3 777.0 1346.9 775.1 1347.4 775.1C1347.9 775.1 1348.5 777.0 1349.0 777.0C1349.6 777.0 1350.3 774.1 1350.9 774.1C1351.4 774.1 1352.0 778.5 1352.5 778.5C1353.1 778.5 1353.7 774.4 1354.3 774.4C1354.8 774.4 1355.3 779.2 1355.8 779.2C1356.5 779.2 1357.2 775.0 1357.9 775.0C1358.5 775.0 1359.0 777.3 1359.6 777.3C1360.2 777.3 1360.8 774.6 1361.4 774.6C1362.0 774.6 1362.6 778.1 1363.2 778.1C1363.9 778.1 1364.6 775.7 1365.3 775.7C1365.9 775.7 1366.4 779.7 1367.0 779.7C1367.4 779.7 1367.8 774.8 1368.2 774.8C1368.8 774.8 1369.4 789.2 1370.0 789.2C1370.3 789.2 1370.7 776.0 1371.0 776.0C1371.3 776.0 1371.5 779.1 1371.8 779.1C1372.5 779.1 1373.3 775.0 1374.0 775.0C1374.6 775.0 1375.1 781.3 1375.7 781.3C1376.3 781.3 1377.0 775.1 1377.6 775.1C1378.2 775.1 1378.8 778.6 1379.4 778.6C1379.9 778.6 1380.5 775.2 1381.0 775.2C1381.7 775.2 1382.5 777.9 1383.2 780.0C1383.8 781.8 1384.4 787.5 1385.0 787.5C1385.6 787.5 1386.2 777.8 1386.8 777.8C1387.6 777.8 1388.3 782.1 1389.1 782.1C1389.7 782.1 1390.2 777.7 1390.8 777.7C1391.4 777.7 1392.0 786.7 1392.6 786.7C1393.2 786.7 1393.8 785.1 1394.4 782.9C1394.6 782.2 1394.8 778.5 1395.0 778.5C1395.7 778.5 1396.4 780.9 1397.1 780.9C1397.8 780.9 1398.6 777.0 1399.3 777.0C1399.9 777.0 1400.4 783.2 1401.0 783.2C1401.7 783.2 1402.3 778.7 1403.0 778.7C1403.6 778.7 1404.2 780.6 1404.8 780.6C1405.4 780.6 1406.0 778.8 1406.6 778.8C1407.1 778.8 1407.5 778.9 1408.0 779.0C1408.3 779.1 1408.6 782.0 1408.9 782.0C1409.6 782.0 1410.2 778.4 1410.9 778.4C1411.4 778.4 1412.0 780.4 1412.5 782.1C1413.1 784.1 1413.7 792.6 1414.3 792.6C1414.9 792.6 1415.5 778.2 1416.1 778.2C1416.6 778.2 1417.0 781.4 1417.5 781.4C1418.1 781.4 1418.8 778.7 1419.4 778.7C1420.1 778.7 1420.8 782.8 1421.5 782.8C1422.2 782.8 1422.8 780.7 1423.5 780.7C1423.7 780.7 1424.0 781.5 1424.2 782.2C1424.8 784.2 1425.4 795.9 1426.0 795.9C1426.6 795.9 1427.2 781.0 1427.8 781.0C1428.4 781.0 1429.0 782.9 1429.6 782.9C1430.3 782.9 1431.0 779.7 1431.7 779.7C1432.3 779.7 1433.0 785.1 1433.6 785.1C1434.4 785.1 1435.2 781.2 1436.0 781.2C1436.2 781.2 1436.5 782.9 1436.7 784.1C1437.3 787.1 1437.9 796.7 1438.5 796.7C1439.1 796.7 1439.7 779.6 1440.3 779.6C1441.1 779.6 1442.0 784.6 1442.8 784.6C1443.4 784.6 1444.0 780.7 1444.6 780.7C1444.7 780.7 1444.9 781.1 1445.0 781.5C1445.3 782.3 1445.5 784.2 1445.8 786.2C1446.4 790.7 1447.0 806.7 1447.6 806.7C1448.2 806.7 1448.8 780.2 1449.4 780.2C1450.0 780.2 1450.7 784.4 1451.3 784.4C1451.9 784.4 1452.4 782.0 1453.0 782.0C1453.7 782.0 1454.3 782.5 1455.0 783.3C1455.6 784.1 1456.2 809.3 1456.8 809.3C1457.4 809.3 1458.0 780.8 1458.6 780.8C1459.1 780.8 1459.6 785.9 1460.1 785.9C1460.7 785.9 1461.2 781.7 1461.8 781.7C1462.5 781.7 1463.2 783.4 1463.9 783.4C1464.6 783.4 1465.2 779.8 1465.9 779.8C1466.5 779.8 1467.1 800.1 1467.7 800.1C1468.3 800.1 1468.9 785.3 1469.5 783.5C1469.7 782.8 1470.0 782.1 1470.2 782.1C1470.9 782.1 1471.6 784.1 1472.3 784.1C1472.9 784.1 1473.6 781.6 1474.2 781.6C1474.8 781.6 1475.4 815.1 1476.0 815.1C1476.6 815.1 1477.2 792.3 1477.8 786.2C1478.0 783.8 1478.3 780.6 1478.5 780.6C1479.3 780.6 1480.1 784.1 1480.9 784.1C1481.3 784.1 1481.6 781.5 1482.0 781.5C1482.2 781.5 1482.4 781.8 1482.6 782.1C1482.9 782.6 1483.1 784.2 1483.4 785.3C1484.0 787.7 1484.6 793.4 1485.2 793.4C1485.8 793.4 1486.4 780.4 1487.0 780.4C1487.6 780.4 1488.3 785.6 1488.9 785.6C1489.9 785.6 1490.8 780.5 1491.8 780.5C1492.4 780.5 1493.0 810.1 1493.6 810.1C1494.2 810.1 1494.8 786.6 1495.4 784.1C1496.0 781.6 1496.6 779.8 1497.2 779.8C1497.9 779.8 1498.5 785.7 1499.2 785.7C1499.5 785.7 1499.7 781.5 1500.0 781.5C1500.4 781.5 1500.7 781.8 1501.1 782.2C1501.3 782.5 1501.6 784.2 1501.8 785.5C1502.4 789.0 1503.0 799.2 1503.6 799.2C1504.2 799.2 1504.8 782.8 1505.4 782.8C1505.9 782.8 1506.4 784.2 1506.9 784.2C1507.4 784.2 1508.0 781.4 1508.5 781.4C1509.0 781.4 1509.6 786.1 1510.1 786.1C1510.6 786.1 1511.0 783.0 1511.5 783.0C1511.6 783.0 1511.8 789.2 1511.9 789.2C1512.5 789.2 1513.1 782.9 1513.7 782.9C1514.5 782.9 1515.2 786.3 1516.0 786.3C1516.7 786.3 1517.4 779.9 1518.1 779.9C1518.7 779.9 1519.4 779.9 1520.0 780.0C1520.0 780.0 1520.1 782.6 1520.1 782.6C1520.7 782.6 1521.2 779.1 1521.8 779.1C1522.6 779.1 1523.3 782.7 1524.1 782.7C1524.9 782.7 1525.6 779.6 1526.4 779.6C1527.2 779.6 1528.0 781.0 1528.8 781.0C1529.3 781.0 1529.9 778.7 1530.4 778.7C1531.0 778.7 1531.7 782.3 1532.3 782.3C1532.7 782.3 1533.0 778.0 1533.4 778.0C1533.6 778.0 1533.7 779.4 1533.9 780.3C1534.6 783.7 1535.3 792.4 1536.0 792.4C1536.3 792.4 1536.7 792.0 1537.0 792.0C1537.3 792.0 1537.5 793.4 1537.8 793.4C1537.9 793.4 1538.1 791.3 1538.2 791.3C1538.7 791.3 1539.1 798.4 1539.6 798.4C1539.7 798.4 1539.9 795.7 1540.0 795.0C1540.6 791.8 1541.2 789.0 1541.8 789.0C1542.4 789.0 1543.0 798.1 1543.6 798.1C1544.2 798.1 1544.8 791.3 1545.4 791.3C1546.0 791.3 1546.6 837.9 1547.2 837.9C1547.8 837.9 1548.4 802.5 1549.0 795.1C1549.3 791.4 1549.6 787.1 1549.9 787.1C1550.3 787.1 1550.6 788.2 1551.0 790.0C1551.2 791.0 1551.4 800.1 1551.6 800.1C1552.1 800.1 1552.5 787.3 1553.0 787.3C1553.4 787.3 1553.9 794.7 1554.3 794.7C1554.6 794.7 1554.9 786.0 1555.2 786.0C1555.8 786.0 1556.4 820.6 1557.0 820.6C1557.6 820.6 1558.2 803.0 1558.8 798.5C1559.5 793.5 1560.1 787.8 1560.8 787.8C1561.2 787.8 1561.6 788.1 1562.0 790.0C1562.1 790.3 1562.1 801.9 1562.2 801.9C1562.8 801.9 1563.4 801.0 1564.0 800.0C1564.6 799.0 1565.2 792.7 1565.8 792.7C1566.3 792.7 1566.8 800.7 1567.3 804.1C1567.9 808.2 1568.5 814.9 1569.1 814.9C1569.7 814.9 1570.3 791.1 1570.9 791.1C1571.3 791.1 1571.7 799.1 1572.1 799.1C1572.6 799.1 1573.1 791.2 1573.6 791.2C1573.7 791.2 1573.9 792.8 1574.0 795.0C1574.1 796.1 1574.1 801.1 1574.2 803.0C1574.8 819.6 1575.4 835.6 1576.0 835.6C1576.6 835.6 1577.2 792.9 1577.8 792.9C1578.1 792.9 1578.3 800.1 1578.6 800.1C1579.1 800.1 1579.5 788.8 1580.0 788.8C1580.3 788.8 1580.7 789.7 1581.0 791.0C1581.2 791.8 1581.4 798.3 1581.6 798.3C1582.1 798.3 1582.5 789.9 1583.0 789.9C1583.5 789.9 1584.1 796.6 1584.6 799.4C1585.2 802.6 1585.8 808.0 1586.4 808.0C1587.0 808.0 1587.6 789.1 1588.2 789.1C1588.8 789.1 1589.3 799.1 1589.9 799.1C1590.3 799.1 1590.6 788.0 1591.0 788.0C1591.1 788.0 1591.3 788.1 1591.4 788.2C1592.2 788.9 1593.0 792.3 1593.8 796.3C1594.4 799.2 1595.0 811.4 1595.6 811.4C1596.2 811.4 1596.8 796.0 1597.4 796.0C1598.0 796.0 1598.5 803.5 1599.1 803.5C1599.4 803.5 1599.7 798.7 1600.0 798.0C1600.1 797.7 1600.3 797.3 1600.4 797.3C1600.9 797.3 1601.4 805.8 1601.9 805.8C1602.5 805.8 1603.0 799.5 1603.6 799.5C1604.2 799.5 1604.8 829.9 1605.4 829.9C1606.0 829.9 1606.6 813.1 1607.2 806.4C1607.5 803.4 1607.7 798.2 1608.0 798.2C1608.5 798.2 1609.0 807.6 1609.5 807.6C1610.0 807.6 1610.5 804.8 1611.0 802.0C1611.1 801.3 1611.3 798.6 1611.4 798.6C1611.9 798.6 1612.3 812.6 1612.8 812.6C1613.4 812.6 1614.0 800.3 1614.6 800.3C1615.2 800.3 1615.8 808.0 1616.4 808.0C1617.0 808.0 1617.6 807.6 1618.2 806.8C1618.6 806.2 1619.1 797.9 1619.5 797.9C1620.0 797.9 1620.6 811.2 1621.1 811.2C1621.4 811.2 1621.7 799.9 1622.0 799.0C1622.2 798.3 1622.5 797.8 1622.7 797.8C1623.3 797.8 1623.8 805.0 1624.4 805.0C1624.8 805.0 1625.1 799.7 1625.5 799.7C1626.1 799.7 1626.7 811.4 1627.3 811.4C1627.9 811.4 1628.5 809.7 1629.1 808.3C1629.8 806.6 1630.6 800.7 1631.3 800.7C1631.9 800.7 1632.4 804.0 1633.0 804.0C1633.3 804.0 1633.7 800.0 1634.0 799.0C1634.2 798.4 1634.4 797.7 1634.6 797.7C1635.1 797.7 1635.6 809.8 1636.1 809.8C1636.5 809.8 1637.0 800.2 1637.4 800.2C1637.9 800.2 1638.3 810.9 1638.8 810.9C1639.2 810.9 1639.7 795.8 1640.1 795.8C1640.6 795.8 1641.2 796.3 1641.7 799.9C1641.7 800.1 1641.8 806.1 1641.8 806.1C1642.3 806.1 1642.8 792.0 1643.3 792.0C1643.8 792.0 1644.2 797.3 1644.7 797.3C1644.8 797.3 1644.9 791.7 1645.0 791.3C1645.7 788.8 1646.3 790.2 1647.0 788.1C1647.2 787.6 1647.3 783.8 1647.5 783.8C1648.0 783.8 1648.6 784.9 1649.1 785.6C1649.7 786.5 1650.4 789.2 1651.0 789.2C1651.6 789.2 1652.1 788.6 1652.7 788.6C1653.2 788.6 1653.8 792.2 1654.3 792.2C1654.7 792.2 1655.1 791.5 1655.5 790.7C1655.6 790.4 1655.8 789.5 1655.9 789.5C1656.5 789.5 1657.1 792.5 1657.7 792.5C1658.2 792.5 1658.8 788.5 1659.3 788.5C1659.9 788.4 1660.4 788.5 1661.0 788.4C1661.6 788.4 1662.1 785.7 1662.7 785.3C1663.0 785.1 1663.3 784.9 1663.6 784.9C1664.0 784.9 1664.4 787.5 1664.8 787.5C1665.5 787.5 1666.2 782.8 1666.9 782.8C1667.5 782.8 1668.2 785.5 1668.8 785.5C1669.3 785.5 1669.9 781.5 1670.4 781.5C1671.0 781.5 1671.6 797.6 1672.2 797.6C1672.8 797.6 1673.4 785.1 1674.0 783.4C1674.6 781.5 1675.3 779.9 1675.9 779.9C1676.4 779.9 1676.8 783.3 1677.3 783.3C1677.3 783.3 1677.4 780.3 1677.4 780.3C1677.9 780.3 1678.5 780.8 1679.0 781.2C1679.6 781.7 1680.2 784.4 1680.8 784.4C1681.4 784.4 1682.0 782.2 1682.6 782.2C1683.1 782.2 1683.7 786.8 1684.2 786.8C1684.8 786.8 1685.4 785.7 1686.0 785.7C1686.2 785.7 1686.4 785.9 1686.6 786.1C1686.9 786.4 1687.1 787.9 1687.4 787.9C1688.0 787.9 1688.5 785.0 1689.1 785.0C1689.6 785.0 1690.1 787.5 1690.6 787.5C1691.2 787.5 1691.7 785.6 1692.3 785.6C1692.8 785.6 1693.3 788.0 1693.8 788.0C1694.3 788.0 1694.7 783.7 1695.2 783.7C1695.4 783.7 1695.7 784.5 1695.9 784.9C1696.2 785.5 1696.6 787.1 1696.9 787.1C1697.4 787.1 1698.0 785.8 1698.5 785.8C1699.1 785.8 1699.8 790.3 1700.4 790.3C1701.0 790.3 1701.6 788.3 1702.2 788.3C1702.9 788.3 1703.5 791.2 1704.2 791.2C1704.9 791.2 1705.5 790.7 1706.2 790.7C1707.7 790.7 1709.3 794.4 1710.8 799.9C1712.0 804.1 1713.1 825.4 1714.3 843.7C1715.1 855.7 1715.8 877.7 1716.6 889.8C1717.4 901.9 1718.1 919.7 1718.9 919.7C1719.7 919.7 1720.4 907.2 1721.2 895.5C1722.0 883.8 1722.7 842.6 1723.5 832.2C1724.8 814.5 1726.1 804.4 1727.4 799.0C1728.6 793.9 1729.9 788.8 1731.1 788.8C1733.5 788.8 1736.0 797.1 1738.4 800.8C1741.5 805.5 1744.5 811.1 1747.6 813.7C1750.7 816.3 1753.8 816.9 1756.9 819.3C1760.3 821.9 1763.6 830.3 1767.0 830.3C1769.8 830.3 1772.5 826.7 1775.3 824.8C1777.5 823.3 1779.6 820.2 1781.8 820.2C1783.3 820.2 1784.9 823.7 1786.4 826.6C1788.2 830.1 1790.1 839.3 1791.9 843.2C1793.7 847.1 1795.6 848.2 1797.4 852.4C1799.9 858.0 1802.3 872.3 1804.8 880.1C1807.3 887.9 1809.7 894.7 1812.2 900.4C1815.0 906.8 1817.7 915.3 1820.5 917.0C1823.9 919.1 1827.2 919.2 1830.6 920.6C1833.1 921.6 1835.5 922.0 1838.0 924.3C1839.8 926.0 1841.7 942.0 1843.5 946.4C1846.6 953.7 1849.6 953.9 1852.7 961.2C1854.5 965.6 1856.4 974.3 1858.2 983.3C1859.1 987.9 1860.1 999.9 1861.0 999.9C1862.5 999.9 1864.1 989.8 1865.6 979.6C1866.8 971.4 1868.1 948.6 1869.3 933.5C1870.8 914.7 1872.4 892.9 1873.9 878.2C1875.4 863.5 1877.0 850.9 1878.5 841.4C1880.3 830.0 1882.2 820.3 1884.0 813.7C1886.5 804.8 1888.9 799.2 1891.4 793.5C1893.9 787.8 1896.3 783.6 1898.8 778.7C1901.3 773.8 1903.7 765.0 1906.2 764.0C1909.9 762.5 1913.6 761.6 1917.3 761.6C1920.2 761.6 1923.0 761.6 1925.9 761.6C1928.8 761.6 1931.7 776.3 1934.6 783.2C1938.6 792.8 1942.7 806.8 1946.7 810.8C1948.4 812.5 1950.1 814.3 1951.8 814.3C1954.4 814.3 1957.0 808.3 1959.6 808.3C1961.0 808.3 1962.5 816.3 1963.9 822.9C1965.6 830.9 1967.4 846.4 1969.1 861.0C1970.8 875.6 1972.6 895.5 1974.3 912.8C1976.0 930.1 1977.8 950.8 1979.5 964.6C1981.2 978.4 1983.0 990.8 1984.7 999.2C1985.6 1003.4 1986.4 1009.6 1987.3 1009.6C1988.7 1009.6 1990.2 999.3 1991.6 990.6C1993.3 980.1 1995.1 956.0 1996.8 938.7C1998.5 921.4 2000.3 900.4 2002.0 886.9C2004.3 869.0 2006.6 852.3 2008.9 843.7C2011.8 833.0 2014.6 823.7 2017.5 821.2C2021.0 818.2 2024.4 816.0 2027.9 816.0C2029.0 816.0 2030.2 827.0 2031.3 831.6C2033.0 838.7 2034.8 849.8 2036.5 850.6C2038.8 851.7 2041.1 852.3 2043.4 852.3C2045.7 852.3 2048.0 844.8 2050.3 842.0C2053.2 838.5 2056.1 838.9 2059.0 833.3C2060.0 831.3 2061.1 818.1 2062.1 814.4C2063.2 810.6 2064.2 807.6 2065.3 806.4C2066.2 805.4 2067.2 805.8 2068.1 804.4C2068.5 803.8 2069.0 795.1 2069.4 794.3C2070.5 792.4 2071.5 792.5 2072.6 791.5C2073.8 790.4 2075.0 790.3 2076.2 788.2C2076.9 787.0 2077.5 775.3 2078.2 775.3C2078.7 775.3 2079.3 784.5 2079.8 788.2C2080.4 792.2 2080.9 798.7 2081.5 798.7C2082.3 798.7 2083.2 796.0 2084.0 796.0C2084.4 796.0 2084.7 796.1 2085.1 796.2C2085.5 796.3 2085.8 805.7 2086.2 805.7C2086.2 805.7 2086.3 800.3 2086.3 800.3C2086.6 800.3 2086.9 803.2 2087.2 805.6C2087.5 808.0 2087.8 816.7 2088.1 816.7C2088.2 816.7 2088.2 815.1 2088.3 814.4C2088.6 810.7 2089.0 806.8 2089.3 804.2C2089.5 802.7 2089.7 801.4 2089.9 800.3C2090.0 799.7 2090.1 799.6 2090.2 798.8C2090.4 797.3 2090.5 778.1 2090.7 778.1C2090.9 778.1 2091.1 784.2 2091.3 787.8C2091.5 791.5 2091.7 796.3 2091.9 800.3C2092.0 803.0 2092.2 808.1 2092.3 808.1C2092.5 808.1 2092.8 808.1 2093.0 808.0C2093.0 808.0 2093.1 806.5 2093.1 806.5C2093.5 806.5 2093.9 809.0 2094.3 809.0C2094.3 809.0 2094.4 804.4 2094.4 804.4C2094.7 804.4 2095.1 812.0 2095.4 812.0C2095.7 812.0 2096.1 795.5 2096.4 795.5C2096.4 795.5 2096.5 796.9 2096.5 797.5C2096.8 802.7 2097.1 803.7 2097.4 810.0C2097.5 811.4 2097.5 816.3 2097.6 816.3C2097.9 816.3 2098.1 806.4 2098.4 806.4C2098.5 806.4 2098.6 807.0 2098.7 807.5C2098.9 808.7 2099.2 814.0 2099.4 814.0C2099.5 814.0 2099.5 813.9 2099.6 813.8C2099.9 813.4 2100.1 796.3 2100.4 796.3C2100.5 796.3 2100.5 798.5 2100.6 799.5C2100.9 803.8 2101.1 808.2 2101.4 812.0C2101.5 812.9 2101.5 814.7 2101.6 814.7C2101.9 814.7 2102.1 808.4 2102.4 808.4C2102.5 808.4 2102.6 808.7 2102.7 809.0C2102.9 809.5 2103.0 816.4 2103.2 816.4C2103.4 816.4 2103.6 815.8 2103.8 814.9C2104.0 814.0 2104.2 800.3 2104.4 800.3C2104.6 800.3 2104.8 803.3 2105.0 805.2C2105.2 807.1 2105.4 809.6 2105.6 812.0C2105.7 813.6 2105.9 816.9 2106.0 816.9C2106.4 816.9 2106.7 806.0 2107.1 806.0C2107.2 806.0 2107.2 806.4 2107.3 806.4C2107.6 806.4 2107.9 806.0 2108.2 804.4C2108.3 804.0 2108.3 797.2 2108.4 796.0C2108.7 790.4 2109.0 789.4 2109.3 787.0C2109.4 785.9 2109.6 784.2 2109.7 784.2C2109.9 784.2 2110.0 788.4 2110.2 788.4C2110.5 788.4 2110.7 784.4 2111.0 784.4C2111.2 784.4 2111.5 785.6 2111.7 788.2C2111.8 789.0 2111.8 795.6 2111.9 797.1C2112.2 803.3 2112.4 808.0 2112.7 808.0C2112.7 808.0 2112.8 806.8 2112.8 806.6C2113.1 805.0 2113.3 806.2 2113.6 804.1C2113.6 803.8 2113.7 796.3 2113.7 796.3C2114.1 796.3 2114.4 808.0 2114.8 808.0C2115.1 808.0 2115.5 802.1 2115.8 801.3C2116.0 800.8 2116.3 800.3 2116.5 800.3C2116.6 800.3 2116.8 807.9 2116.9 808.0C2117.2 808.0 2117.5 808.0 2117.8 808.0C2117.8 808.0 2117.9 806.6 2117.9 806.4C2118.3 803.7 2118.6 803.8 2119.0 802.2C2119.1 801.7 2119.3 800.3 2119.4 800.3C2119.9 800.3 2120.5 803.0 2121.0 804.3" fill="none" stroke="url(#redg)" stroke-width="2.6" stroke-linejoin="round"/>
<path d="M158.0 1082.6C158.1 1082.4 158.2 1082.0 158.3 1082.0C158.8 1082.0 159.4 1082.1 159.9 1082.2C160.8 1082.3 161.6 1082.7 162.5 1082.7C163.1 1082.7 163.7 1082.2 164.3 1082.2C165.1 1082.2 166.0 1083.3 166.8 1083.3C167.4 1083.3 168.1 1082.2 168.7 1082.2C169.3 1082.2 169.9 1083.8 170.5 1083.8C171.3 1083.8 172.1 1082.3 172.9 1082.3C173.6 1082.3 174.2 1083.4 174.9 1083.4C175.7 1083.4 176.5 1082.6 177.3 1082.6C177.9 1082.6 178.6 1084.0 179.2 1084.0C179.8 1084.0 180.4 1082.6 181.0 1082.6C181.8 1082.6 182.6 1083.6 183.4 1083.6C184.2 1083.6 185.0 1082.6 185.8 1082.6C186.6 1082.6 187.5 1083.9 188.3 1083.9C189.1 1083.9 189.9 1083.0 190.7 1083.0C191.3 1083.0 192.0 1083.8 192.6 1083.8C193.4 1083.8 194.1 1082.8 194.9 1082.8C195.7 1082.8 196.5 1084.2 197.3 1084.2C198.0 1084.2 198.7 1083.0 199.4 1083.0C200.3 1083.0 201.1 1084.1 202.0 1084.1C202.7 1084.1 203.3 1083.4 204.0 1083.4C204.6 1083.4 205.1 1083.4 205.7 1083.4C206.0 1083.4 206.3 1084.8 206.6 1084.8C207.4 1084.8 208.2 1083.2 209.0 1083.2C209.6 1083.2 210.2 1084.4 210.8 1084.4C211.4 1084.4 211.9 1083.0 212.5 1083.0C213.3 1083.0 214.1 1084.2 214.9 1084.2C215.7 1084.2 216.5 1083.0 217.3 1083.0C217.9 1083.0 218.6 1084.5 219.2 1084.5C219.9 1084.5 220.5 1083.3 221.2 1083.3C222.0 1083.3 222.8 1084.0 223.6 1084.0C224.2 1084.0 224.9 1083.6 225.5 1083.6C226.3 1083.6 227.2 1084.2 228.0 1084.2C228.7 1084.2 229.5 1083.5 230.2 1083.5C230.8 1083.5 231.4 1084.7 232.0 1084.7C232.7 1084.7 233.4 1083.6 234.1 1083.6C234.9 1083.6 235.6 1084.1 236.4 1084.1C237.1 1084.1 237.8 1083.2 238.5 1083.2C239.3 1083.2 240.1 1084.8 240.9 1084.8C241.5 1084.8 242.2 1082.9 242.8 1082.9C243.6 1082.9 244.4 1084.0 245.2 1084.0C245.9 1084.0 246.6 1083.3 247.3 1083.3C248.1 1083.3 248.8 1084.4 249.6 1084.4C250.4 1084.4 251.2 1083.6 252.0 1083.6C252.7 1083.6 253.4 1084.7 254.1 1084.7C254.8 1084.7 255.5 1083.3 256.2 1083.3C257.0 1083.3 257.8 1084.9 258.6 1084.9C259.5 1084.9 260.3 1083.3 261.2 1083.3C261.2 1083.3 261.3 1083.4 261.3 1083.4C262.1 1084.1 262.9 1084.5 263.7 1084.5C264.4 1084.5 265.2 1083.5 265.9 1083.5C266.7 1083.5 267.4 1083.9 268.2 1084.5C268.8 1085.0 269.4 1089.0 270.0 1089.0C270.6 1089.0 271.2 1083.5 271.8 1083.5C272.8 1083.5 273.8 1084.9 274.8 1084.9C275.6 1084.9 276.5 1083.6 277.3 1083.6C278.0 1083.6 278.6 1085.4 279.3 1085.4C280.1 1085.4 280.8 1084.0 281.6 1084.0C282.5 1084.0 283.3 1085.2 284.2 1085.2C285.0 1085.2 285.9 1083.8 286.7 1083.8C287.5 1083.8 288.2 1085.2 289.0 1085.2C289.7 1085.2 290.3 1084.1 291.0 1084.1C291.7 1084.1 292.5 1085.5 293.2 1085.5C294.0 1085.5 294.9 1084.4 295.7 1084.4C296.5 1084.4 297.4 1085.3 298.2 1085.9C298.8 1086.4 299.4 1088.0 300.0 1088.0C300.6 1088.0 301.2 1084.9 301.8 1084.9C302.0 1084.9 302.3 1085.7 302.5 1085.7C303.3 1085.7 304.2 1084.6 305.0 1084.6C305.8 1084.6 306.7 1086.0 307.5 1086.0C308.2 1086.0 308.8 1085.1 309.5 1085.1C310.1 1085.1 310.6 1085.8 311.2 1085.8C311.9 1085.8 312.5 1084.9 313.2 1084.9C313.9 1084.9 314.7 1086.4 315.4 1086.4C316.1 1086.4 316.9 1084.8 317.6 1084.8C318.4 1084.8 319.3 1086.1 320.1 1086.1C321.0 1086.1 321.8 1085.5 322.7 1085.5C323.3 1085.5 323.9 1086.7 324.5 1086.7C325.3 1086.7 326.2 1085.3 327.0 1085.3C327.8 1085.3 328.6 1086.2 329.4 1086.2C329.9 1086.2 330.4 1085.6 330.9 1085.6C331.3 1085.6 331.6 1085.8 332.0 1086.0C332.7 1086.3 333.5 1087.5 334.2 1087.5C334.9 1087.5 335.5 1086.8 336.2 1086.8C337.0 1086.8 337.9 1088.8 338.7 1088.8C339.5 1088.8 340.4 1087.9 341.2 1087.9C342.0 1087.9 342.8 1089.2 343.6 1089.2C344.4 1089.2 345.3 1088.4 346.1 1088.4C346.8 1088.4 347.5 1090.1 348.2 1090.1C348.8 1090.1 349.4 1089.5 350.0 1089.5C350.8 1089.5 351.5 1091.2 352.3 1091.2C353.1 1091.2 353.9 1090.3 354.7 1090.3C355.4 1090.3 356.0 1091.8 356.7 1091.8C357.5 1091.8 358.3 1091.6 359.1 1091.6C360.0 1091.6 360.8 1093.3 361.7 1093.3C362.3 1093.3 363.0 1092.3 363.6 1092.3C364.4 1092.3 365.1 1094.5 365.9 1094.5C366.7 1094.5 367.5 1093.5 368.3 1093.5C369.0 1093.5 369.8 1094.6 370.5 1094.6C371.1 1094.6 371.8 1094.2 372.4 1094.2C372.5 1094.2 372.6 1094.4 372.7 1094.5C373.3 1095.0 373.8 1096.0 374.4 1096.0C375.2 1096.0 376.0 1094.8 376.8 1094.8C377.6 1094.8 378.5 1096.7 379.3 1096.7C380.0 1096.7 380.7 1095.3 381.4 1095.3C382.0 1095.3 382.7 1096.9 383.3 1096.9C384.1 1096.9 384.9 1096.6 385.7 1096.6C386.5 1096.6 387.4 1097.9 388.2 1097.9C388.8 1097.9 389.5 1097.1 390.1 1097.1C390.9 1097.1 391.6 1098.2 392.4 1098.2C393.3 1098.2 394.1 1097.7 395.0 1097.7C395.8 1097.7 396.7 1099.3 397.5 1099.3C398.2 1099.3 399.0 1098.3 399.7 1098.3C400.4 1098.3 401.2 1100.1 401.9 1100.1C402.7 1100.1 403.4 1099.1 404.2 1099.1C404.8 1099.1 405.5 1101.0 406.1 1101.0C406.7 1101.0 407.4 1099.7 408.0 1099.7C408.6 1099.7 409.3 1101.0 409.9 1101.0C410.7 1101.0 411.5 1100.0 412.3 1100.0C413.0 1100.0 413.7 1101.5 414.4 1101.5C415.2 1101.5 415.9 1101.2 416.7 1101.2C417.4 1101.2 418.1 1102.1 418.8 1102.1C419.5 1102.1 420.3 1101.3 421.0 1101.3C421.6 1101.3 422.3 1102.8 422.9 1102.8C423.5 1102.8 424.1 1102.2 424.7 1102.2C425.6 1102.2 426.4 1104.1 427.3 1104.1C427.6 1104.1 428.0 1102.9 428.3 1102.9C428.7 1102.9 429.0 1102.9 429.4 1102.9C430.0 1102.9 430.7 1104.4 431.3 1104.4C432.1 1104.4 432.8 1102.7 433.6 1102.7C434.4 1102.7 435.2 1103.8 436.0 1103.8C436.6 1103.8 437.3 1103.4 437.9 1103.4C438.7 1103.4 439.4 1104.3 440.2 1104.3C440.9 1104.3 441.6 1103.6 442.3 1103.6C443.0 1103.6 443.8 1104.6 444.5 1104.6C445.1 1104.6 445.7 1103.4 446.3 1103.4C446.9 1103.4 447.5 1104.7 448.1 1104.7C449.0 1104.7 449.8 1103.6 450.7 1103.6C451.5 1103.6 452.4 1105.6 453.2 1105.6C453.9 1105.6 454.7 1104.2 455.4 1104.2C456.2 1104.2 456.9 1105.2 457.7 1105.2C458.3 1105.2 459.0 1104.3 459.6 1104.3C460.4 1104.3 461.3 1105.5 462.1 1105.5C462.8 1105.5 463.5 1104.2 464.2 1104.2C465.1 1104.2 465.9 1106.2 466.8 1106.2C467.6 1106.2 468.5 1104.9 469.3 1104.9C470.1 1104.9 470.9 1106.5 471.7 1106.5C472.6 1106.5 473.4 1105.0 474.3 1105.0C475.0 1105.0 475.6 1106.4 476.3 1106.4C476.9 1106.4 477.5 1105.1 478.1 1105.1C478.8 1105.1 479.4 1106.1 480.1 1106.1C480.7 1106.1 481.4 1105.8 482.0 1105.8C482.6 1105.8 483.2 1107.0 483.8 1107.0C483.9 1107.0 483.9 1105.7 484.0 1105.7C484.5 1105.4 485.1 1105.3 485.6 1105.3C486.4 1105.3 487.1 1106.8 487.9 1106.8C488.7 1106.8 489.6 1105.3 490.4 1105.3C491.1 1105.3 491.9 1105.9 492.6 1105.9C493.5 1105.9 494.3 1104.8 495.2 1104.8C496.0 1104.8 496.9 1106.1 497.7 1106.1C498.3 1106.1 498.9 1104.4 499.5 1104.4C500.3 1104.4 501.0 1105.8 501.8 1105.8C502.5 1105.8 503.2 1103.9 503.9 1103.9C504.5 1103.9 505.2 1105.0 505.8 1105.0C506.7 1105.0 507.5 1103.9 508.4 1103.9C509.1 1103.9 509.7 1104.4 510.4 1104.4C511.1 1104.4 511.9 1103.2 512.6 1103.2C513.4 1103.2 514.2 1104.7 515.0 1104.7C515.9 1104.7 516.7 1103.0 517.6 1103.0C518.4 1103.0 519.1 1104.3 519.9 1104.3C520.6 1104.3 521.3 1102.5 522.0 1102.5C522.7 1102.5 523.5 1103.4 524.2 1103.4C524.8 1103.4 525.5 1102.3 526.1 1102.3C527.0 1102.3 527.8 1103.0 528.7 1103.0C529.6 1103.0 530.4 1102.3 531.3 1102.3C532.0 1102.3 532.6 1102.8 533.3 1102.8C533.9 1102.8 534.5 1101.7 535.1 1101.7C535.7 1101.7 536.4 1102.3 537.0 1102.3C537.7 1102.3 538.4 1101.4 539.1 1101.4C539.3 1101.4 539.4 1101.5 539.6 1101.5C540.3 1101.7 541.0 1102.7 541.7 1102.7C542.5 1102.7 543.4 1101.9 544.2 1101.9C545.0 1101.9 545.9 1103.0 546.7 1103.0C547.3 1103.0 547.9 1102.3 548.5 1102.3C549.3 1102.3 550.2 1104.4 551.0 1104.4C551.8 1104.4 552.6 1103.1 553.4 1103.1C554.2 1103.1 554.9 1104.4 555.7 1104.4C556.6 1104.4 557.4 1103.6 558.3 1103.6C558.9 1103.6 559.5 1105.1 560.1 1105.1C560.7 1105.1 561.4 1104.2 562.0 1104.2C562.8 1104.2 563.6 1105.4 564.4 1105.4C565.3 1105.4 566.1 1105.2 567.0 1105.2C567.8 1105.2 568.6 1106.4 569.4 1106.4C570.1 1106.4 570.7 1105.4 571.4 1105.4C572.2 1105.4 572.9 1107.3 573.7 1107.3C574.5 1107.3 575.3 1106.0 576.1 1106.0C576.7 1106.0 577.4 1107.5 578.0 1107.5C578.7 1107.5 579.3 1107.0 580.0 1107.0C580.7 1107.0 581.3 1107.9 582.0 1107.9C582.6 1107.9 583.3 1107.3 583.9 1107.3C584.6 1107.3 585.4 1109.1 586.1 1109.1C586.7 1109.1 587.4 1108.1 588.0 1108.1C588.6 1108.1 589.3 1109.0 589.9 1109.0C590.5 1109.0 591.2 1108.3 591.8 1108.3C592.6 1108.3 593.4 1110.1 594.2 1110.1C594.6 1110.1 594.9 1109.2 595.3 1109.0C595.5 1108.9 595.7 1108.7 595.9 1108.7C596.7 1108.7 597.5 1110.3 598.3 1110.3C599.0 1110.3 599.6 1108.3 600.3 1108.3C600.9 1108.3 601.5 1110.0 602.1 1110.0C602.9 1110.0 603.8 1108.3 604.6 1108.3C605.3 1108.3 605.9 1109.1 606.6 1109.1C607.5 1109.1 608.3 1108.0 609.2 1108.0C610.0 1108.0 610.9 1108.7 611.7 1108.7C612.5 1108.7 613.4 1107.9 614.2 1107.9C614.8 1107.9 615.5 1108.5 616.1 1108.5C616.8 1108.5 617.6 1107.8 618.3 1107.8C618.9 1107.8 619.5 1108.6 620.1 1108.6C621.0 1108.6 621.8 1107.1 622.7 1107.1C623.5 1107.1 624.4 1108.0 625.2 1108.0C626.0 1108.0 626.7 1107.0 627.5 1107.0C628.2 1107.0 629.0 1107.7 629.7 1107.7C630.4 1107.7 631.0 1107.0 631.7 1107.0C632.5 1107.0 633.4 1107.3 634.2 1107.3C634.9 1107.3 635.7 1106.4 636.4 1106.4C637.2 1106.4 637.9 1107.5 638.7 1107.5C639.3 1107.5 640.0 1106.0 640.6 1106.0C641.2 1106.0 641.9 1107.5 642.5 1107.5C643.1 1107.5 643.8 1105.9 644.4 1105.9C645.2 1105.9 645.9 1107.1 646.7 1107.1C647.5 1107.1 648.2 1105.7 649.0 1105.7C649.6 1105.7 650.3 1106.5 650.9 1106.5C650.9 1106.5 651.0 1105.7 651.0 1105.7C651.8 1105.5 652.6 1105.5 653.4 1105.5C654.1 1105.5 654.7 1106.4 655.4 1106.4C656.1 1106.4 656.8 1105.5 657.5 1105.5C658.1 1105.5 658.8 1107.3 659.4 1107.3C660.1 1107.3 660.7 1105.7 661.4 1105.7C662.2 1105.7 663.1 1107.2 663.9 1107.2C664.6 1107.2 665.3 1105.6 666.0 1105.6C666.6 1105.6 667.3 1107.2 667.9 1107.2C668.6 1107.2 669.4 1105.9 670.1 1105.9C670.8 1105.9 671.4 1107.2 672.1 1107.2C673.0 1107.2 673.8 1106.0 674.7 1106.0C675.3 1106.0 675.9 1106.9 676.5 1106.9C677.4 1106.9 678.2 1106.1 679.1 1106.1C679.7 1106.1 680.4 1107.1 681.0 1107.1C681.8 1107.1 682.7 1106.0 683.5 1106.0C684.3 1106.0 685.0 1107.7 685.8 1107.7C686.5 1107.7 687.1 1106.2 687.8 1106.2C688.5 1106.2 689.3 1107.5 690.0 1107.5C690.7 1107.5 691.3 1106.8 692.0 1106.8C692.7 1106.8 693.3 1108.0 694.0 1108.0C694.6 1108.0 695.3 1106.9 695.9 1106.9C696.6 1106.9 697.3 1108.2 698.0 1108.2C698.9 1108.2 699.7 1106.4 700.6 1106.4C701.5 1106.4 702.4 1107.7 703.3 1107.7C704.1 1107.7 705.0 1106.5 705.8 1106.5C706.1 1106.5 706.3 1106.8 706.6 1107.0C707.0 1107.3 707.3 1107.9 707.7 1107.9C708.4 1107.9 709.0 1106.0 709.7 1106.0C710.5 1106.0 711.4 1106.2 712.2 1106.2C712.8 1106.2 713.5 1104.5 714.1 1104.5C714.9 1104.5 715.7 1105.1 716.5 1105.1C717.2 1105.1 717.8 1103.7 718.5 1103.4C719.0 1103.1 719.5 1103.0 720.0 1102.9C723.7 1102.5 727.4 1102.3 731.1 1102.3C733.3 1102.3 735.6 1104.2 737.8 1106.8C739.3 1108.5 740.8 1114.3 742.3 1121.2C743.4 1126.3 744.5 1141.2 745.6 1146.8C746.2 1149.7 746.7 1153.5 747.3 1153.5C748.2 1153.5 749.1 1150.0 750.0 1146.8C751.1 1142.8 752.3 1126.6 753.4 1124.6C754.5 1122.6 755.6 1121.2 756.7 1121.2C758.2 1121.2 759.7 1126.1 761.2 1129.0C763.1 1132.6 764.9 1141.3 766.8 1141.3C768.6 1141.3 770.5 1132.7 772.3 1129.0C774.5 1124.5 776.8 1120.2 779.0 1116.8C781.6 1112.9 784.2 1108.7 786.8 1106.8C788.3 1105.8 789.7 1104.5 791.2 1104.5C793.4 1104.5 795.7 1108.6 797.9 1110.1C799.8 1111.4 801.6 1111.7 803.5 1113.4C805.0 1114.8 806.4 1122.3 807.9 1122.3C809.4 1122.3 810.9 1116.4 812.4 1112.3C813.9 1108.3 815.3 1098.1 816.8 1096.7C819.8 1093.9 822.8 1093.4 825.8 1092.3C831.4 1090.3 836.9 1089.1 842.5 1087.8C846.2 1087.0 849.9 1086.0 853.6 1085.6C864.7 1084.4 875.9 1083.7 887.0 1083.4C911.3 1082.8 935.7 1082.6 960.0 1082.3C993.8 1081.9 1027.5 1081.2 1061.3 1081.2C1074.2 1081.2 1087.1 1083.6 1100.0 1083.6C1100.6 1083.6 1101.2 1083.4 1101.8 1083.4C1102.2 1083.4 1102.7 1083.4 1103.1 1083.4C1103.5 1083.4 1103.8 1083.9 1104.2 1083.9C1104.9 1083.9 1105.6 1083.4 1106.3 1083.4C1106.9 1083.4 1107.6 1083.8 1108.2 1083.8C1108.8 1083.8 1109.3 1083.2 1109.9 1083.2C1110.7 1083.2 1111.6 1084.3 1112.4 1084.3C1113.2 1084.3 1113.9 1083.5 1114.7 1083.5C1115.3 1083.5 1116.0 1084.2 1116.6 1084.2C1117.3 1084.2 1118.0 1083.3 1118.7 1083.3C1119.6 1083.3 1120.4 1083.9 1121.3 1083.9C1121.9 1083.9 1122.6 1083.4 1123.2 1083.4C1124.0 1083.4 1124.7 1084.0 1125.5 1084.0C1126.1 1084.0 1126.8 1083.5 1127.4 1083.5C1128.0 1083.5 1128.7 1084.2 1129.3 1084.2C1130.1 1084.2 1130.9 1083.5 1131.7 1083.5C1132.5 1083.5 1133.3 1084.2 1134.1 1084.2C1134.8 1084.2 1135.4 1083.7 1136.1 1083.7C1136.7 1083.7 1137.3 1084.2 1137.9 1084.2C1138.5 1084.2 1139.1 1083.9 1139.7 1083.9C1140.5 1083.9 1141.2 1084.4 1142.0 1084.4C1142.7 1084.4 1143.5 1083.9 1144.2 1083.9C1144.9 1083.9 1145.5 1084.3 1146.2 1084.3C1146.9 1084.3 1147.5 1083.8 1148.2 1083.8C1149.0 1083.8 1149.7 1084.6 1150.5 1084.6C1151.3 1084.6 1152.0 1083.8 1152.8 1083.8C1153.6 1083.8 1154.5 1084.3 1155.3 1084.3C1156.1 1084.3 1156.8 1084.1 1157.6 1084.1C1158.2 1084.1 1158.9 1084.7 1159.5 1084.7C1160.1 1084.7 1160.8 1083.9 1161.4 1083.9C1162.2 1083.9 1163.0 1084.4 1163.8 1084.4C1164.5 1084.4 1165.2 1084.2 1165.9 1084.2C1166.7 1084.2 1167.5 1084.7 1168.3 1084.7C1168.9 1084.7 1169.5 1083.9 1170.1 1083.9C1170.9 1083.9 1171.8 1084.6 1172.6 1084.6C1173.3 1084.6 1173.9 1084.0 1174.6 1084.0C1175.4 1084.0 1176.3 1084.9 1177.1 1084.9C1177.9 1084.9 1178.8 1084.1 1179.6 1084.1C1180.3 1084.1 1181.1 1085.0 1181.8 1085.0C1182.4 1085.0 1183.0 1084.3 1183.6 1084.3C1184.5 1084.3 1185.3 1084.7 1186.2 1084.7C1186.9 1084.7 1187.6 1084.4 1188.3 1084.4C1189.2 1084.4 1190.0 1084.9 1190.9 1084.9C1191.6 1084.9 1192.2 1084.4 1192.9 1084.4C1193.5 1084.4 1194.2 1085.1 1194.8 1085.1C1195.6 1085.1 1196.5 1084.3 1197.3 1084.3C1198.0 1084.3 1198.7 1084.8 1199.4 1084.8C1200.0 1084.8 1200.7 1084.6 1201.3 1084.6C1202.0 1084.6 1202.6 1085.0 1203.3 1085.0C1204.1 1085.0 1204.8 1084.6 1205.6 1084.6C1206.2 1084.6 1206.8 1085.2 1207.4 1085.2C1208.1 1085.2 1208.9 1084.6 1209.6 1084.6C1210.3 1084.6 1211.1 1085.3 1211.8 1085.3C1212.5 1085.3 1213.3 1084.6 1214.0 1084.6C1214.6 1084.6 1215.2 1085.2 1215.8 1085.2C1216.6 1085.2 1217.4 1084.4 1218.2 1084.4C1219.0 1084.4 1219.9 1085.4 1220.7 1085.4C1221.5 1085.4 1222.4 1084.6 1223.2 1084.6C1223.9 1084.6 1224.6 1085.3 1225.3 1085.3C1226.1 1085.3 1226.9 1085.0 1227.7 1084.9C1227.9 1084.9 1228.1 1084.8 1228.3 1084.8C1228.8 1084.8 1229.3 1085.1 1229.8 1085.1C1230.6 1085.1 1231.4 1084.8 1232.2 1084.8C1232.8 1084.8 1233.4 1085.0 1234.0 1085.0C1234.8 1085.0 1235.7 1084.7 1236.5 1084.7C1237.4 1084.7 1238.2 1085.3 1239.1 1085.3C1239.8 1085.3 1240.6 1084.4 1241.3 1084.4C1242.0 1084.4 1242.8 1085.1 1243.5 1085.1C1244.3 1085.1 1245.0 1084.7 1245.8 1084.7C1246.5 1084.7 1247.3 1085.1 1248.0 1085.1C1248.6 1085.1 1249.2 1084.4 1249.8 1084.4C1250.7 1084.4 1251.5 1084.9 1252.4 1084.9C1253.0 1084.9 1253.7 1084.2 1254.3 1084.2C1255.0 1084.2 1255.6 1084.9 1256.3 1084.9C1256.9 1084.9 1257.5 1084.3 1258.1 1084.3C1258.8 1084.3 1259.4 1084.7 1260.1 1084.7C1260.9 1084.7 1261.8 1084.2 1262.6 1084.2C1263.2 1084.2 1263.8 1084.6 1264.4 1084.6C1265.0 1084.6 1265.6 1084.3 1266.2 1084.3C1267.0 1084.3 1267.8 1084.8 1268.6 1084.8C1269.2 1084.8 1269.9 1084.0 1270.5 1084.0C1271.1 1084.0 1271.7 1084.6 1272.3 1084.6C1273.1 1084.6 1273.8 1084.1 1274.6 1084.1C1275.3 1084.1 1276.1 1084.6 1276.8 1084.6C1277.6 1084.6 1278.3 1084.2 1279.1 1084.2C1279.9 1084.2 1280.6 1084.5 1281.4 1084.5C1282.0 1084.5 1282.7 1083.8 1283.3 1083.8C1283.5 1083.8 1283.8 1083.9 1284.0 1084.0C1284.6 1084.2 1285.2 1084.8 1285.8 1084.8C1286.6 1084.8 1287.4 1084.0 1288.2 1084.0C1288.8 1084.0 1289.4 1084.9 1290.0 1084.9C1290.6 1084.9 1291.3 1084.2 1291.9 1084.2C1292.6 1084.2 1293.4 1085.2 1294.1 1085.2C1294.8 1085.2 1295.6 1084.5 1296.3 1084.5C1297.0 1084.5 1297.6 1085.4 1298.3 1085.4C1298.9 1085.4 1299.5 1084.6 1300.1 1084.6C1300.8 1084.6 1301.6 1085.5 1302.3 1085.5C1302.9 1085.5 1303.5 1084.9 1304.1 1084.9C1304.9 1084.9 1305.6 1085.6 1306.4 1085.6C1307.2 1085.6 1308.1 1085.2 1308.9 1085.2C1309.5 1085.2 1310.2 1086.0 1310.8 1086.0C1311.6 1086.0 1312.3 1085.2 1313.1 1085.2C1313.9 1085.2 1314.7 1086.0 1315.5 1086.0C1316.1 1086.0 1316.8 1085.5 1317.4 1085.5C1318.2 1085.5 1319.1 1086.1 1319.9 1086.1C1320.8 1086.1 1321.6 1085.6 1322.5 1085.6C1323.2 1085.6 1323.9 1086.4 1324.6 1086.4C1325.3 1086.4 1326.0 1085.9 1326.7 1085.9C1327.5 1085.9 1328.4 1086.8 1329.2 1086.8C1329.9 1086.8 1330.7 1086.2 1331.4 1086.2C1332.1 1086.2 1332.8 1086.7 1333.5 1086.7C1334.4 1086.7 1335.2 1086.4 1336.1 1086.4C1336.9 1086.4 1337.8 1087.2 1338.6 1087.2C1338.9 1087.2 1339.3 1086.8 1339.6 1086.7C1339.9 1086.6 1340.3 1086.6 1340.6 1086.6C1341.3 1086.6 1341.9 1087.0 1342.6 1087.0C1343.3 1087.0 1344.0 1086.4 1344.7 1086.4C1345.4 1086.4 1346.1 1086.9 1346.8 1086.9C1347.7 1086.9 1348.5 1086.7 1349.4 1086.7C1350.2 1086.7 1351.1 1087.3 1351.9 1087.3C1352.8 1087.3 1353.6 1086.3 1354.5 1086.3C1355.3 1086.3 1356.1 1087.2 1356.9 1087.2C1357.7 1087.2 1358.6 1086.6 1359.4 1086.6C1360.0 1086.6 1360.6 1087.1 1361.2 1087.1C1362.0 1087.1 1362.7 1086.2 1363.5 1086.2C1364.4 1086.2 1365.2 1087.0 1366.1 1087.0C1366.9 1087.0 1367.8 1086.3 1368.6 1086.3C1369.3 1086.3 1369.9 1086.8 1370.6 1086.8C1371.3 1086.8 1372.1 1086.3 1372.8 1086.3C1373.6 1086.3 1374.3 1086.7 1375.1 1086.7C1375.8 1086.7 1376.5 1086.5 1377.2 1086.5C1377.9 1086.5 1378.7 1087.0 1379.4 1087.0C1380.0 1087.0 1380.6 1086.3 1381.2 1086.3C1381.9 1086.3 1382.6 1087.1 1383.3 1087.1C1384.0 1087.1 1384.8 1086.3 1385.5 1086.3C1386.1 1086.3 1386.7 1086.7 1387.3 1086.7C1387.9 1086.7 1388.6 1086.1 1389.2 1086.1C1390.1 1086.1 1390.9 1086.6 1391.8 1086.6C1392.6 1086.6 1393.5 1085.9 1394.3 1085.9C1394.6 1085.9 1395.0 1086.1 1395.3 1086.2C1395.8 1086.4 1396.3 1087.0 1396.8 1087.0C1397.6 1087.0 1398.4 1086.6 1399.2 1086.6C1400.0 1086.6 1400.8 1087.3 1401.6 1087.3C1402.5 1087.3 1403.3 1086.9 1404.2 1086.9C1405.0 1086.9 1405.9 1088.0 1406.7 1088.0C1407.3 1088.0 1407.9 1087.6 1408.5 1087.6C1409.3 1087.6 1410.0 1088.5 1410.8 1088.5C1411.5 1088.5 1412.1 1087.7 1412.8 1087.7C1413.6 1087.7 1414.4 1088.9 1415.2 1088.9C1415.9 1088.9 1416.5 1088.5 1417.2 1088.5C1417.9 1088.5 1418.7 1089.3 1419.4 1089.3C1420.3 1089.3 1421.1 1088.7 1422.0 1088.7C1422.8 1088.7 1423.5 1089.5 1424.3 1089.5C1425.0 1089.5 1425.6 1089.4 1426.3 1089.4C1427.0 1089.4 1427.8 1090.0 1428.5 1090.0C1429.2 1090.0 1429.9 1089.6 1430.6 1089.6C1431.5 1089.6 1432.3 1090.6 1433.2 1090.6C1433.9 1090.6 1434.5 1090.1 1435.2 1090.1C1435.8 1090.1 1436.5 1090.1 1437.1 1090.4C1437.2 1090.4 1437.2 1091.2 1437.3 1091.2C1438.1 1091.2 1438.8 1090.7 1439.6 1090.7C1440.2 1090.7 1440.9 1091.6 1441.5 1091.6C1442.3 1091.7 1443.0 1091.7 1443.8 1091.8C1444.7 1091.9 1445.5 1093.0 1446.4 1093.0C1447.1 1093.0 1447.9 1092.9 1448.6 1092.9C1449.3 1092.9 1449.9 1093.9 1450.6 1093.9C1451.3 1093.9 1452.0 1093.8 1452.7 1093.8C1453.5 1093.8 1454.2 1095.0 1455.0 1095.0C1455.6 1095.0 1456.3 1094.5 1456.9 1094.5C1457.5 1094.5 1458.1 1095.5 1458.7 1095.5C1458.9 1095.5 1459.1 1095.2 1459.3 1095.1C1459.7 1095.0 1460.2 1094.9 1460.6 1094.9C1461.3 1094.9 1461.9 1095.6 1462.6 1095.6C1463.3 1095.6 1464.0 1095.1 1464.7 1095.1C1465.4 1095.1 1466.1 1095.5 1466.8 1095.5C1467.4 1095.5 1468.1 1095.3 1468.7 1095.3C1469.3 1095.3 1470.0 1095.7 1470.6 1095.7C1471.3 1095.7 1472.1 1095.2 1472.8 1095.2C1473.6 1095.2 1474.5 1096.2 1475.3 1096.2C1476.1 1096.2 1476.8 1095.2 1477.6 1095.2C1478.4 1095.2 1479.1 1095.7 1479.9 1095.7C1480.7 1095.7 1481.4 1095.4 1482.2 1095.4C1482.8 1095.4 1483.5 1095.9 1484.1 1095.9C1484.9 1095.9 1485.7 1095.6 1486.5 1095.6C1487.2 1095.6 1488.0 1095.9 1488.7 1095.9C1489.4 1095.9 1490.2 1095.7 1490.9 1095.7C1491.7 1095.7 1492.4 1096.4 1493.2 1096.4C1493.9 1096.4 1494.7 1095.7 1495.4 1095.7C1496.1 1095.7 1496.7 1096.2 1497.4 1096.2C1498.1 1096.2 1498.7 1095.6 1499.4 1095.6C1500.1 1095.6 1500.7 1096.4 1501.4 1096.4C1502.1 1096.4 1502.9 1095.8 1503.6 1095.8C1504.3 1095.8 1505.0 1096.4 1505.7 1096.4C1506.0 1096.4 1506.3 1096.0 1506.6 1095.9C1507.0 1095.8 1507.5 1095.6 1507.9 1095.6C1508.5 1095.6 1509.1 1096.1 1509.7 1096.1C1510.4 1096.1 1511.1 1095.4 1511.8 1095.4C1512.6 1095.4 1513.5 1095.8 1514.3 1095.8C1515.0 1095.8 1515.6 1095.0 1516.3 1095.0C1517.0 1095.0 1517.8 1095.1 1518.5 1095.1C1519.2 1095.1 1519.9 1094.6 1520.6 1094.5C1520.6 1094.5 1520.7 1094.5 1520.7 1094.5C1521.4 1094.5 1522.0 1097.6 1522.7 1098.3C1522.9 1098.5 1523.1 1098.7 1523.3 1098.7C1524.0 1098.7 1524.7 1096.9 1525.4 1096.2C1526.1 1095.6 1526.7 1095.2 1527.4 1094.5C1527.9 1093.9 1528.4 1092.5 1528.9 1092.3C1529.2 1092.2 1529.5 1092.1 1529.8 1092.1C1530.4 1092.1 1531.1 1092.6 1531.7 1092.6C1532.3 1092.6 1532.9 1092.1 1533.5 1092.1C1534.4 1092.1 1535.2 1092.8 1536.1 1092.8C1536.8 1092.8 1537.5 1092.5 1538.2 1092.4C1538.8 1092.4 1539.4 1092.3 1540.0 1092.3C1540.7 1092.3 1541.4 1093.4 1542.1 1093.4C1542.8 1093.4 1543.6 1093.1 1544.3 1093.1C1545.1 1093.1 1545.9 1094.2 1546.7 1094.2C1547.3 1094.2 1547.9 1093.8 1548.5 1093.8C1549.2 1093.8 1549.8 1094.7 1550.5 1094.7C1551.4 1094.7 1552.2 1094.5 1553.1 1094.5C1553.9 1094.5 1554.7 1095.2 1555.5 1095.2C1556.1 1095.2 1556.7 1095.2 1557.3 1095.2C1557.3 1095.2 1557.4 1095.2 1557.4 1095.2C1558.1 1095.2 1558.8 1095.9 1559.5 1096.1C1565.0 1097.0 1570.5 1096.6 1576.0 1097.4C1580.8 1098.1 1585.6 1101.1 1590.4 1104.6C1592.8 1106.4 1595.2 1110.0 1597.6 1113.2C1600.0 1116.4 1602.4 1124.0 1604.8 1124.0C1607.2 1124.0 1609.6 1123.7 1612.0 1123.3C1615.4 1122.7 1618.7 1113.9 1622.1 1113.9C1625.0 1113.9 1627.8 1118.2 1630.7 1118.2C1633.1 1118.2 1635.5 1112.3 1637.9 1108.9C1640.3 1105.5 1642.7 1098.4 1645.1 1097.4C1648.5 1096.1 1651.8 1095.7 1655.2 1095.2C1662.4 1094.2 1669.6 1093.0 1676.8 1093.0C1684.0 1093.0 1691.2 1094.8 1698.4 1097.4C1701.3 1098.4 1704.1 1100.3 1707.0 1104.6C1708.7 1107.1 1710.4 1113.8 1712.1 1127.6C1712.8 1133.3 1713.5 1156.6 1714.2 1170.8C1715.2 1190.4 1716.1 1207.8 1717.1 1228.4C1717.8 1244.1 1718.6 1278.8 1719.3 1278.8C1720.2 1278.8 1721.2 1250.3 1722.1 1228.4C1722.8 1211.2 1723.6 1168.1 1724.3 1156.4C1725.5 1137.2 1726.7 1127.7 1727.9 1120.4C1729.1 1112.9 1730.4 1104.2 1731.6 1104.2C1733.8 1104.2 1735.9 1116.4 1738.1 1120.7C1741.0 1126.6 1744.0 1132.2 1746.9 1134.9C1749.8 1137.5 1752.7 1138.3 1755.6 1140.4C1759.6 1143.4 1763.7 1151.3 1767.7 1151.3C1770.2 1151.3 1772.8 1146.2 1775.3 1142.5C1777.5 1139.3 1779.7 1129.4 1781.9 1129.4C1784.1 1129.4 1786.3 1131.7 1788.5 1136.0C1789.6 1138.1 1790.6 1160.0 1791.7 1160.0C1793.9 1160.0 1796.1 1159.0 1798.3 1159.0C1801.6 1159.0 1804.9 1181.0 1808.2 1192.9C1811.1 1203.3 1814.0 1215.5 1816.9 1225.7C1819.1 1233.4 1821.3 1245.9 1823.5 1247.6C1827.1 1250.4 1830.8 1249.3 1834.4 1252.0C1836.6 1253.6 1838.8 1258.2 1841.0 1267.3C1842.1 1271.9 1843.2 1302.7 1844.3 1304.5C1846.1 1307.4 1847.9 1306.4 1849.7 1308.8C1851.9 1311.7 1854.1 1324.7 1856.3 1337.3C1858.1 1347.8 1860.0 1383.2 1861.8 1383.2C1863.2 1383.2 1864.7 1354.5 1866.1 1337.3C1867.9 1315.3 1869.8 1285.6 1871.6 1260.7C1873.8 1230.8 1876.0 1195.8 1878.2 1173.2C1880.4 1150.9 1882.5 1129.9 1884.7 1118.5C1887.6 1103.0 1890.6 1094.7 1893.5 1085.6C1895.7 1078.9 1897.8 1075.0 1900.0 1068.1C1902.2 1061.0 1904.4 1043.4 1906.6 1041.9C1910.2 1039.4 1913.9 1040.1 1917.5 1038.1C1920.9 1036.3 1924.2 1025.7 1927.6 1025.7C1929.5 1025.7 1931.3 1034.7 1933.2 1041.5C1936.2 1052.4 1939.2 1090.9 1942.2 1090.9C1945.2 1090.9 1948.2 1087.5 1951.2 1087.5C1954.2 1087.5 1957.2 1096.4 1960.2 1104.4C1962.4 1110.4 1964.7 1118.7 1966.9 1133.6C1968.4 1143.6 1969.9 1171.0 1971.4 1189.7C1972.9 1208.4 1974.4 1227.7 1975.9 1245.9C1978.1 1273.0 1980.4 1299.9 1982.6 1324.5C1984.5 1345.1 1986.3 1383.0 1988.2 1383.0C1990.1 1383.0 1992.0 1356.5 1993.9 1335.8C1995.4 1319.8 1996.8 1288.6 1998.3 1268.4C1999.8 1247.8 2001.3 1225.4 2002.8 1212.2C2005.1 1192.2 2007.3 1177.7 2009.6 1167.3C2012.2 1155.4 2014.8 1141.6 2017.4 1140.3C2020.0 1138.9 2022.7 1138.1 2025.3 1138.1C2026.8 1138.1 2028.3 1149.6 2029.8 1156.0C2032.0 1165.6 2034.3 1182.9 2036.5 1187.5C2038.8 1192.2 2041.0 1196.5 2043.3 1196.5C2045.5 1196.5 2047.8 1189.6 2050.0 1185.2C2053.0 1179.2 2056.0 1177.0 2059.0 1162.8C2059.7 1159.6 2060.3 1146.4 2061.0 1140.0C2061.5 1135.5 2061.9 1131.0 2062.4 1128.3C2063.3 1123.0 2064.3 1120.7 2065.2 1116.8C2066.3 1112.3 2067.3 1105.3 2068.4 1103.0C2069.5 1100.7 2070.6 1100.4 2071.7 1098.4C2072.6 1096.8 2073.5 1094.7 2074.4 1091.5C2075.6 1087.1 2076.9 1067.5 2078.1 1067.5C2078.7 1067.5 2079.4 1074.7 2080.0 1077.6C2080.8 1081.1 2081.5 1082.8 2082.3 1086.9C2082.9 1090.1 2083.5 1098.6 2084.1 1100.7C2085.2 1104.5 2086.2 1107.6 2087.3 1107.6C2088.2 1107.6 2089.2 1101.7 2090.1 1099.8C2091.3 1097.2 2092.6 1093.8 2093.8 1093.8C2094.7 1093.8 2095.6 1109.9 2096.5 1109.9C2096.7 1109.9 2096.8 1106.8 2097.0 1105.6C2097.3 1103.3 2097.7 1100.0 2098.0 1100.0C2098.0 1100.0 2098.1 1104.1 2098.1 1104.6C2098.4 1109.7 2098.8 1110.1 2099.1 1111.6C2099.1 1111.8 2099.2 1112.0 2099.2 1112.0C2099.6 1112.0 2099.9 1110.6 2100.3 1107.7C2100.4 1107.2 2100.4 1103.0 2100.5 1103.0C2100.8 1103.0 2101.1 1107.9 2101.4 1110.5C2101.5 1111.6 2101.7 1114.0 2101.8 1114.0C2102.0 1114.0 2102.2 1112.9 2102.4 1111.7C2102.6 1110.6 2102.8 1104.0 2103.0 1104.0C2103.2 1104.0 2103.3 1105.9 2103.5 1107.1C2103.8 1109.5 2104.2 1109.9 2104.5 1116.0C2104.5 1116.6 2104.6 1120.5 2104.6 1120.5C2105.0 1120.5 2105.3 1113.3 2105.7 1113.3C2105.9 1113.3 2106.0 1114.5 2106.2 1114.5C2106.4 1114.5 2106.5 1114.1 2106.7 1113.6C2107.0 1112.8 2107.2 1106.9 2107.5 1106.0C2107.6 1105.7 2107.7 1105.3 2107.8 1105.3C2108.2 1105.3 2108.5 1106.1 2108.9 1106.1C2109.2 1106.1 2109.6 1103.0 2109.9 1100.7C2110.8 1094.2 2111.8 1068.4 2112.7 1068.4C2113.3 1068.4 2113.9 1091.7 2114.5 1100.7C2115.0 1107.7 2115.4 1119.1 2115.9 1119.1C2116.5 1119.1 2117.1 1100.1 2117.7 1096.1C2118.1 1093.2 2118.6 1091.6 2119.0 1090.0C2119.3 1088.8 2119.7 1086.9 2120.0 1086.9C2120.3 1086.9 2120.7 1092.3 2121.0 1095.0" fill="none" stroke="#333" stroke-width="2.6" stroke-linejoin="round"/>
<path d="M2086 802 C2092 806 2100 810 2106 809 S2114 804 2119 802" fill="none" stroke="#d42626" stroke-width="9" stroke-linecap="round" opacity="0.55"/>
<path d="M2098 1107 L2108 1112" fill="none" stroke="#222" stroke-width="6" stroke-linecap="round" opacity="0.6"/>
<!-- frame -->
<rect x="155.0" y="32.2" width="1968.5" height="1438.2" fill="none" stroke="#1e1e1e" stroke-width="5"/>
<g stroke="#222" stroke-width="5"><line x1="155.0" y1="1470.4" x2="155.0" y2="1501" /><line x1="440.2" y1="1470.4" x2="440.2" y2="1501" /><line x1="725.4" y1="1470.4" x2="725.4" y2="1501" /><line x1="1010.6" y1="1470.4" x2="1010.6" y2="1501" /><line x1="1295.8" y1="1470.4" x2="1295.8" y2="1501" /><line x1="1581.0" y1="1470.4" x2="1581.0" y2="1501" /><line x1="1866.2" y1="1470.4" x2="1866.2" y2="1501" /><line x1="297.6" y1="1470.4" x2="297.6" y2="1485" /><line x1="582.8" y1="1470.4" x2="582.8" y2="1485" /><line x1="868.0" y1="1470.4" x2="868.0" y2="1485" /><line x1="1153.2" y1="1470.4" x2="1153.2" y2="1485" /><line x1="1438.4" y1="1470.4" x2="1438.4" y2="1485" /><line x1="1723.6" y1="1470.4" x2="1723.6" y2="1485" /><line x1="2008.8" y1="1470.4" x2="2008.8" y2="1485" /></g>
<g class="sans" font-size="56" fill="#111"><text x="155.0" y="1560" text-anchor="middle">4000</text><text x="440.2" y="1560" text-anchor="middle">3500</text><text x="725.4" y="1560" text-anchor="middle">3000</text><text x="1010.6" y="1560" text-anchor="middle">2500</text><text x="1295.8" y="1560" text-anchor="middle">2000</text><text x="1581.0" y="1560" text-anchor="middle">1500</text><text x="1866.2" y="1560" text-anchor="middle">1000</text></g>
<!-- annotation -->
<line x1="1489.5" y1="166.7" x2="1868" y2="166.7" stroke="#b07a7e" stroke-width="3"/>
<polygon points="1865.5,157.2 1899.5,166.7 1865.5,176.2" fill="#cc1a1a"/>
<g class="serif" fill="#ad282d" stroke="#fde4e7" stroke-width="4" paint-order="stroke" stroke-linejoin="round">
<text x="1248.5" y="144.5" font-size="62" textLength="182" lengthAdjust="spacingAndGlyphs">Si<tspan dy="-7.5">&#8211;</tspan><tspan dy="7.5">OH</tspan></text>
<text x="1214" y="220.2" font-size="62">960 cm</text>
<text x="1399" y="201.3" font-size="35">-1</text>
</g>
<!-- sample labels -->
<g class="serif" fill="#111" font-size="63">
<text x="250" y="407.3">P15</text>
<text x="250" y="686">P12</text>
<text x="262" y="1044.4">P9</text>
</g>
<!-- axis titles -->
<g class="serif" fill="#111">
<text x="775" y="1702.5" font-size="83" textLength="484" lengthAdjust="spacingAndGlyphs">Wavenumber</text>
<text x="1284" y="1702.5" font-size="83">(</text>
<text x="1310.5" y="1702.5" font-size="83" textLength="105" lengthAdjust="spacingAndGlyphs">cm</text>
<text x="1414" y="1686.7" font-size="52" textLength="28" lengthAdjust="spacingAndGlyphs">&#8722;</text>
<text x="1442" y="1678.4" font-size="44">1</text>
<text x="1465" y="1702.5" font-size="83">)</text>
<text transform="translate(86,778) rotate(-90)" text-anchor="middle" font-size="83" textLength="656" lengthAdjust="spacingAndGlyphs">Transmittance (%)</text>
</g>
</g>
</svg>
</body></html>
